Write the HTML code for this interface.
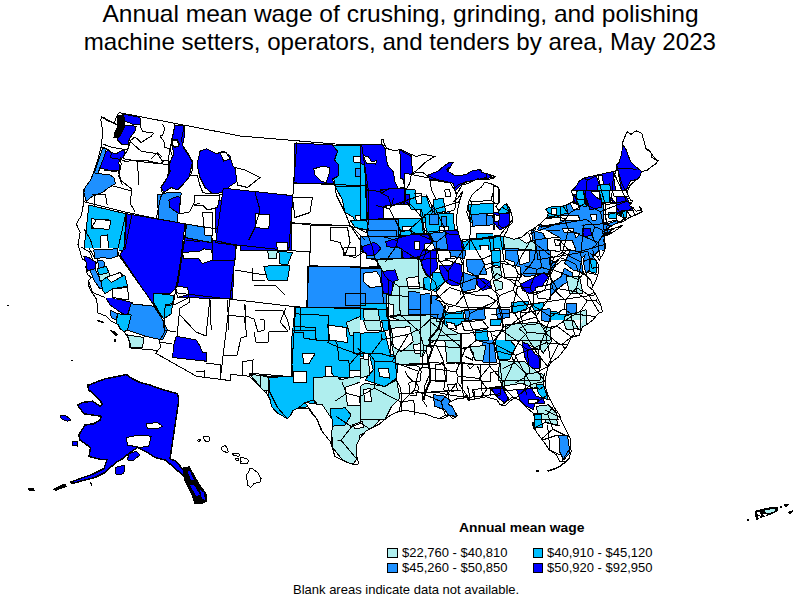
<!DOCTYPE html>
<html><head><meta charset="utf-8">
<style>
html,body{margin:0;padding:0;background:#fff;width:800px;height:600px;overflow:hidden}
body{position:relative;font-family:"Liberation Sans",sans-serif}
.t{position:absolute;left:0;width:800px;text-align:center;font-size:24px;color:#000;white-space:nowrap;line-height:28px}
#t1 span,#t2 span{display:inline-block}
#t1 span{transform:scaleX(1.0224)}
#t2 span{transform:scaleX(1.004)}
#t1{top:0px;left:1px}
#t2{top:28px}
.lg{position:absolute;font-size:13px;white-space:nowrap;color:#000}
.sw{position:absolute;width:8px;height:8px;border:1px solid #000}
svg{position:absolute;left:0;top:0}
</style></head><body>
<svg width="800" height="600" viewBox="0 0 800 600" shape-rendering="crispEdges">
<defs><clipPath id="us"><polygon points="101.5,116.5 107.6,121.0 114.6,122.5 116.8,116.1 119.2,112.6 240.8,136.1 335.3,144.0 361.6,144.7 381.4,144.7 381.4,139.6 383.2,139.8 384.5,144.7 386.7,148.4 394.3,150.9 401.0,149.4 408.8,153.5 416.6,156.5 423.2,154.2 431.0,155.8 434.9,156.4 426.4,161.4 418.1,169.2 411.4,174.2 416.3,172.7 422.1,172.0 427.2,175.6 432.9,173.2 438.7,170.9 442.3,167.3 448.8,162.7 453.2,162.4 449.3,168.8 447.5,171.0 454.6,175.2 461.5,175.3 466.4,174.2 472.0,171.0 480.7,169.4 482.0,172.7 485.0,173.1 490.1,174.6 495.3,176.7 492.5,178.6 484.7,179.9 477.7,178.9 472.9,181.1 468.2,183.6 462.3,184.8 459.7,189.1 457.1,194.1 455.0,199.7 453.7,201.8 458.4,197.4 462.9,190.9 459.6,200.7 458.6,206.3 457.4,210.5 456.2,221.6 457.9,231.1 460.8,240.6 465.0,241.4 469.0,239.2 470.5,232.9 470.1,221.8 466.7,212.5 468.8,201.3 472.2,194.8 475.9,191.1 481.5,187.1 484.5,182.3 490.1,183.4 497.5,186.7 500.0,191.2 499.8,198.1 499.3,202.3 495.7,206.8 499.2,210.6 502.8,206.0 506.5,203.5 510.3,209.2 512.4,217.3 512.1,222.9 508.4,226.8 506.8,231.2 503.8,236.4 509.7,237.8 514.1,239.3 522.2,236.9 528.8,231.1 533.7,228.7 540.7,223.5 547.5,216.4 548.1,213.5 545.8,209.0 551.2,206.8 560.5,206.6 567.4,204.7 573.9,200.7 572.9,195.3 571.2,191.5 575.5,187.2 579.4,180.8 584.9,177.7 598.2,174.8 616.1,170.8 616.1,164.5 618.7,162.5 620.0,159.4 621.8,154.1 622.2,147.7 622.2,143.5 627.0,131.7 631.0,134.3 636.1,130.8 641.8,133.3 645.9,147.9 650.3,151.6 653.1,156.5 657.9,160.6 655.3,164.4 650.8,167.0 647.4,170.1 641.6,171.6 639.8,177.0 633.8,182.0 630.3,185.0 628.2,189.1 627.2,193.6 630.3,200.0 632.6,200.8 629.6,205.8 633.2,207.8 636.2,211.3 641.3,210.1 639.4,207.0 641.3,208.0 642.2,211.7 637.9,213.8 635.0,215.2 631.1,216.8 628.2,218.2 623.6,221.4 613.5,224.4 606.1,230.2 613.3,228.6 623.3,225.0 617.7,229.1 609.2,234.5 604.1,236.0 604.6,238.3 605.5,248.0 603.4,253.4 599.2,260.2 597.5,256.7 591.5,254.4 597.5,262.4 599.0,267.1 598.0,273.7 595.6,281.2 592.7,286.8 591.0,280.7 586.8,275.8 584.2,267.8 583.7,259.4 585.1,254.9 581.4,258.4 582.6,270.9 587.0,277.2 587.5,285.6 592.8,290.0 596.1,295.4 600.6,304.5 602.6,311.9 598.3,313.4 592.7,320.2 587.6,324.0 582.4,327.0 579.2,335.4 571.4,337.4 566.1,347.5 558.2,357.2 550.8,362.5 547.9,367.2 545.8,377.3 545.2,385.9 546.5,391.4 550.0,399.4 553.4,406.0 559.5,415.0 561.7,421.7 567.0,432.2 570.4,438.7 571.1,451.3 569.0,458.7 566.2,461.2 560.0,462.0 556.4,454.8 549.5,450.1 543.3,441.1 537.4,433.4 534.1,426.8 535.0,419.7 533.0,412.9 526.9,408.0 520.0,400.4 514.9,398.1 511.5,399.9 504.9,405.9 500.0,404.6 497.1,400.0 486.1,396.8 474.4,399.2 468.5,400.3 465.7,395.6 463.6,398.8 456.5,399.0 449.5,402.3 448.4,404.4 452.1,406.3 454.9,411.8 457.6,415.8 452.9,418.9 449.1,414.9 444.4,418.0 438.4,418.3 433.5,417.1 427.4,414.6 423.7,413.4 417.7,412.9 406.8,410.4 399.1,411.3 392.5,414.2 388.9,416.3 384.2,419.9 379.4,424.1 370.9,428.3 366.0,431.1 359.9,438.0 356.7,445.0 356.0,451.9 358.4,463.1 359.0,463.8 354.6,464.7 344.7,461.5 334.9,456.4 330.4,441.6 324.5,434.4 321.1,430.1 316.7,418.7 313.2,415.0 308.7,408.8 300.4,408.1 296.8,408.6 293.0,410.4 290.3,415.9 287.1,418.9 283.0,416.1 277.2,412.9 271.7,406.8 269.9,399.0 266.8,393.8 260.2,386.9 255.9,382.3 249.4,376.3 230.8,374.3 230.1,380.6 196.6,376.3 156.0,353.4 157.6,350.4 129.7,347.9 129.3,342.6 128.4,338.1 123.9,331.5 119.8,328.5 118.3,324.6 110.9,320.8 106.1,316.2 97.6,312.8 97.5,305.6 96.2,298.8 91.2,291.1 88.1,284.6 88.6,280.4 91.1,277.4 87.3,274.4 85.8,266.8 86.8,262.7 82.2,258.7 80.4,252.5 78.0,244.6 80.2,232.3 76.3,224.0 81.4,215.3 83.9,201.7 83.3,190.1 91.0,179.4 97.0,162.6 101.2,146.8 102.2,137.3 102.4,129.0 100.8,120.2"/></clipPath></defs>
<polygon points="101.5,116.5 107.6,121.0 114.6,122.5 116.8,116.1 119.2,112.6 240.8,136.1 335.3,144.0 361.6,144.7 381.4,144.7 381.4,139.6 383.2,139.8 384.5,144.7 386.7,148.4 394.3,150.9 401.0,149.4 408.8,153.5 416.6,156.5 423.2,154.2 431.0,155.8 434.9,156.4 426.4,161.4 418.1,169.2 411.4,174.2 416.3,172.7 422.1,172.0 427.2,175.6 432.9,173.2 438.7,170.9 442.3,167.3 448.8,162.7 453.2,162.4 449.3,168.8 447.5,171.0 454.6,175.2 461.5,175.3 466.4,174.2 472.0,171.0 480.7,169.4 482.0,172.7 485.0,173.1 490.1,174.6 495.3,176.7 492.5,178.6 484.7,179.9 477.7,178.9 472.9,181.1 468.2,183.6 462.3,184.8 459.7,189.1 457.1,194.1 455.0,199.7 453.7,201.8 458.4,197.4 462.9,190.9 459.6,200.7 458.6,206.3 457.4,210.5 456.2,221.6 457.9,231.1 460.8,240.6 465.0,241.4 469.0,239.2 470.5,232.9 470.1,221.8 466.7,212.5 468.8,201.3 472.2,194.8 475.9,191.1 481.5,187.1 484.5,182.3 490.1,183.4 497.5,186.7 500.0,191.2 499.8,198.1 499.3,202.3 495.7,206.8 499.2,210.6 502.8,206.0 506.5,203.5 510.3,209.2 512.4,217.3 512.1,222.9 508.4,226.8 506.8,231.2 503.8,236.4 509.7,237.8 514.1,239.3 522.2,236.9 528.8,231.1 533.7,228.7 540.7,223.5 547.5,216.4 548.1,213.5 545.8,209.0 551.2,206.8 560.5,206.6 567.4,204.7 573.9,200.7 572.9,195.3 571.2,191.5 575.5,187.2 579.4,180.8 584.9,177.7 598.2,174.8 616.1,170.8 616.1,164.5 618.7,162.5 620.0,159.4 621.8,154.1 622.2,147.7 622.2,143.5 627.0,131.7 631.0,134.3 636.1,130.8 641.8,133.3 645.9,147.9 650.3,151.6 653.1,156.5 657.9,160.6 655.3,164.4 650.8,167.0 647.4,170.1 641.6,171.6 639.8,177.0 633.8,182.0 630.3,185.0 628.2,189.1 627.2,193.6 630.3,200.0 632.6,200.8 629.6,205.8 633.2,207.8 636.2,211.3 641.3,210.1 639.4,207.0 641.3,208.0 642.2,211.7 637.9,213.8 635.0,215.2 631.1,216.8 628.2,218.2 623.6,221.4 613.5,224.4 606.1,230.2 613.3,228.6 623.3,225.0 617.7,229.1 609.2,234.5 604.1,236.0 604.6,238.3 605.5,248.0 603.4,253.4 599.2,260.2 597.5,256.7 591.5,254.4 597.5,262.4 599.0,267.1 598.0,273.7 595.6,281.2 592.7,286.8 591.0,280.7 586.8,275.8 584.2,267.8 583.7,259.4 585.1,254.9 581.4,258.4 582.6,270.9 587.0,277.2 587.5,285.6 592.8,290.0 596.1,295.4 600.6,304.5 602.6,311.9 598.3,313.4 592.7,320.2 587.6,324.0 582.4,327.0 579.2,335.4 571.4,337.4 566.1,347.5 558.2,357.2 550.8,362.5 547.9,367.2 545.8,377.3 545.2,385.9 546.5,391.4 550.0,399.4 553.4,406.0 559.5,415.0 561.7,421.7 567.0,432.2 570.4,438.7 571.1,451.3 569.0,458.7 566.2,461.2 560.0,462.0 556.4,454.8 549.5,450.1 543.3,441.1 537.4,433.4 534.1,426.8 535.0,419.7 533.0,412.9 526.9,408.0 520.0,400.4 514.9,398.1 511.5,399.9 504.9,405.9 500.0,404.6 497.1,400.0 486.1,396.8 474.4,399.2 468.5,400.3 465.7,395.6 463.6,398.8 456.5,399.0 449.5,402.3 448.4,404.4 452.1,406.3 454.9,411.8 457.6,415.8 452.9,418.9 449.1,414.9 444.4,418.0 438.4,418.3 433.5,417.1 427.4,414.6 423.7,413.4 417.7,412.9 406.8,410.4 399.1,411.3 392.5,414.2 388.9,416.3 384.2,419.9 379.4,424.1 370.9,428.3 366.0,431.1 359.9,438.0 356.7,445.0 356.0,451.9 358.4,463.1 359.0,463.8 354.6,464.7 344.7,461.5 334.9,456.4 330.4,441.6 324.5,434.4 321.1,430.1 316.7,418.7 313.2,415.0 308.7,408.8 300.4,408.1 296.8,408.6 293.0,410.4 290.3,415.9 287.1,418.9 283.0,416.1 277.2,412.9 271.7,406.8 269.9,399.0 266.8,393.8 260.2,386.9 255.9,382.3 249.4,376.3 230.8,374.3 230.1,380.6 196.6,376.3 156.0,353.4 157.6,350.4 129.7,347.9 129.3,342.6 128.4,338.1 123.9,331.5 119.8,328.5 118.3,324.6 110.9,320.8 106.1,316.2 97.6,312.8 97.5,305.6 96.2,298.8 91.2,291.1 88.1,284.6 88.6,280.4 91.1,277.4 87.3,274.4 85.8,266.8 86.8,262.7 82.2,258.7 80.4,252.5 78.0,244.6 80.2,232.3 76.3,224.0 81.4,215.3 83.9,201.7 83.3,190.1 91.0,179.4 97.0,162.6 101.2,146.8 102.2,137.3 102.4,129.0 100.8,120.2" fill="#fff"/>
<g clip-path="url(#us)" stroke="#000" stroke-width="1" stroke-linejoin="round">
<polygon points="122.5,113.8 140.0,117.5 140.0,124.4 135.0,125.0 125.0,121.2 122.5,120.0" fill="#0000ff"/>
<polygon points="123.8,125.0 136.2,126.2 135.0,131.2 131.2,136.2 129.4,138.8 128.1,144.4 122.5,145.0 117.5,140.0 118.8,135.0 121.2,131.2 122.5,127.5" fill="#0000ff"/>
<polygon points="107.5,150.0 111.2,152.5 116.2,153.8 122.5,150.0 125.0,151.2 123.8,156.2 120.0,160.0 118.8,162.5 120.0,170.0 115.0,171.9 100.0,168.1 101.2,160.0 105.0,153.8" fill="#0000ff"/>
<polygon points="102.5,148.1 106.2,148.8 104.4,156.2 100.0,167.5 97.5,175.0 93.8,175.0 98.8,160.0" fill="#1e90ff"/>
<polygon points="91.2,172.5 100.0,173.8 110.0,175.0 113.8,177.5 115.5,183.8 108.8,187.5 102.5,192.5 92.5,196.2 86.2,201.2 83.8,192.5 86.2,182.5" fill="#1e90ff"/>
<polygon points="174.5,125.0 184.2,126.2 185.0,133.8 182.5,145.0 187.5,152.5 192.5,162.5 188.8,177.5 182.5,185.0 177.5,190.0 171.2,187.5 163.8,192.5 161.2,187.5 167.5,177.5 170.0,162.5 173.8,153.8 171.2,141.2 173.8,132.5" fill="#0000ff"/>
<polygon points="171.2,140.0 177.5,139.5 179.5,144.5 175.0,147.5 171.2,145.0" fill="#ffffff"/>
<polygon points="200.0,151.2 206.2,148.8 216.2,153.8 223.8,151.2 230.0,156.2 232.5,165.0 238.8,173.8 237.5,181.2 230.0,186.2 222.5,192.5 212.5,193.8 205.0,187.5 200.0,177.5 197.0,165.0" fill="#0000ff"/>
<polygon points="220.0,152.5 226.2,152.5 230.0,158.8 223.8,161.2" fill="#ffffff"/>
<polygon points="157.5,195.0 170.0,192.0 181.2,193.0 180.0,205.0 178.0,213.8 177.5,222.5 158.8,219.5 158.0,207.5" fill="#1e90ff"/>
<polygon points="168.8,200.0 177.5,196.2 180.5,197.5 179.0,213.8 170.0,207.5" fill="#0000ff"/>
<polygon points="186.2,225.0 210.0,230.0 213.0,241.2 207.5,247.5 196.2,247.0 186.2,241.2" fill="#1e90ff"/>
<polygon points="88.8,205.0 126.2,213.8 123.8,250.0 83.8,250.0 86.2,230.0" fill="#00bfff"/>
<polygon points="91.2,218.8 108.8,220.0 107.5,227.5 91.2,228.8" fill="#ffffff"/>
<polygon points="100.0,236.2 107.5,235.0 108.8,250.0 100.0,250.0" fill="#ffffff"/>
<polygon points="295.0,143.0 333.0,145.0 337.5,151.2 334.5,160.0 338.8,165.0 338.0,176.2 332.5,178.8 333.8,183.8 293.8,183.8" fill="#0000ff"/>
<polygon points="313.8,168.8 322.5,166.2 330.0,167.5 328.8,175.0 326.2,182.5 321.2,181.2 315.0,175.0" fill="#ffffff"/>
<polygon points="332.5,145.0 360.0,145.0 362.5,162.5 365.0,186.2 335.0,186.2 333.8,178.8 338.0,176.2 338.8,165.0 334.5,160.0 337.5,151.2" fill="#00bfff"/>
<polygon points="355.0,168.8 363.8,168.8 363.8,176.2 355.0,176.2" fill="#1e90ff"/>
<polygon points="365.0,169.5 370.0,169.5 370.0,176.2 365.0,176.2" fill="#1e90ff"/>
<polygon points="353.8,156.2 362.5,157.0 362.5,162.0 353.8,162.0" fill="#ffffff"/>
<polygon points="360.0,144.5 380.0,144.5 383.8,146.2 385.0,160.0 392.5,170.0 395.0,182.5 390.0,188.8 367.5,192.5 365.0,185.0 362.5,162.5" fill="#0000ff"/>
<polygon points="362.5,157.0 375.0,158.8 375.0,165.0 365.0,163.8" fill="#ffffff"/>
<polygon points="400.0,150.0 411.2,153.8 412.5,175.0 407.5,182.5 401.2,180.0" fill="#0000ff"/>
<polygon points="367.5,192.5 390.0,188.8 396.2,186.2 402.5,190.0 405.0,202.5 400.0,207.5 390.0,210.0 383.8,207.5 380.0,217.5 370.0,220.0 367.5,207.5" fill="#0000ff"/>
<polygon points="335.0,186.2 365.0,186.2 367.5,220.0 366.2,225.0 362.5,230.0 355.0,225.0 353.8,217.5 345.0,212.5 342.5,200.0" fill="#00bfff"/>
<polygon points="355.0,215.0 365.0,215.0 366.2,225.0 357.5,225.0" fill="#ffffff"/>
<polygon points="367.5,220.0 397.5,220.0 398.8,235.0 378.8,236.2 370.0,230.0" fill="#1e90ff"/>
<polygon points="397.5,217.5 421.2,217.5 422.5,233.8 400.0,235.0" fill="#00bfff"/>
<polygon points="240.0,191.2 255.0,193.0 291.2,196.2 291.2,250.0 240.0,250.0" fill="#0000ff"/>
<polygon points="255.0,213.8 270.0,215.0 268.8,228.8 255.0,227.5" fill="#ffffff"/>
<polygon points="276.2,242.5 288.8,242.5 288.8,250.0 276.2,250.0" fill="#ffffff"/>
<polygon points="97.5,251.2 116.2,248.8 118.8,253.8 113.8,258.8 106.2,260.0 100.0,258.8" fill="#1e90ff"/>
<polygon points="97.5,267.5 110.0,263.8 120.0,272.5 127.5,282.5 126.2,287.5 115.0,287.5 105.0,292.5 100.0,285.0 95.0,275.0" fill="#00bfff"/>
<polygon points="85.0,257.5 95.0,258.8 97.5,265.0 95.0,271.2 88.8,270.0 85.0,263.8" fill="#0000ff"/>
<polygon points="96.2,260.0 106.2,261.2 105.0,267.5 97.5,268.8" fill="#1e90ff"/>
<polygon points="98.8,272.5 108.8,272.0 108.0,280.0 100.0,279.5" fill="#afeeee"/>
<polygon points="107.5,277.5 122.5,272.5 121.2,281.2 108.8,283.8" fill="#ffffff"/>
<polygon points="127.0,213.8 185.0,223.8 177.5,286.2 170.0,293.8 153.8,293.0 153.8,302.5 161.2,316.2 120.0,255.0 124.5,247.5" fill="#0000ff"/>
<polygon points="153.8,293.0 173.8,295.5 171.2,313.8 163.8,318.8 161.2,316.2 153.8,302.5" fill="#00bfff"/>
<polygon points="185.0,237.5 210.0,242.5 235.0,243.8 232.5,298.8 177.5,297.5 177.5,286.2" fill="#0000ff"/>
<polygon points="185.0,223.8 212.5,228.8 211.2,242.5 185.0,237.5" fill="#1e90ff"/>
<polygon points="182.5,252.5 200.0,251.2 203.8,248.8 211.2,250.0 213.8,260.0 205.0,262.5 202.5,263.8 198.8,258.8 183.8,258.8" fill="#ffffff"/>
<polygon points="175.5,286.2 187.5,287.5 188.8,294.5 177.5,297.5" fill="#ffffff"/>
<polygon points="215.0,200.0 260.0,200.0 260.0,246.2 235.0,245.0 215.0,232.5" fill="#0000ff"/>
<polygon points="105.0,296.2 132.5,302.5 131.2,315.0 122.5,313.8 110.0,305.0" fill="#0000ff"/>
<polygon points="131.2,303.8 153.8,306.2 161.2,317.5 167.5,330.0 162.5,340.0 145.0,336.2 127.5,330.0 127.5,315.0" fill="#1e90ff"/>
<polygon points="117.5,313.8 131.2,315.0 127.5,330.0 122.5,332.5 116.2,325.0" fill="#00bfff"/>
<polygon points="110.0,310.0 117.5,313.8 116.2,320.0 111.2,317.5" fill="#1e90ff"/>
<polygon points="127.5,335.0 143.8,337.5 142.5,347.5 131.2,347.5" fill="#afeeee"/>
<polygon points="176.2,336.2 196.2,340.0 200.0,346.2 202.5,352.5 207.0,353.0 206.2,361.2 172.5,357.5 173.8,345.0" fill="#0000ff"/>
<polygon points="250.0,374.5 268.8,376.2 267.5,386.2 266.2,396.2 261.2,390.0 255.0,380.0" fill="#afeeee"/>
<polygon points="295.0,307.5 340.0,311.2 340.0,410.0 330.0,410.0 326.2,402.5 315.0,402.5 305.0,407.5 296.2,407.5 287.5,418.8 278.8,413.8 270.0,405.0 267.5,386.2 268.8,376.2 291.2,376.2 292.5,332.5 293.8,320.0" fill="#00bfff"/>
<polygon points="312.5,377.5 340.0,375.0 340.0,410.0 330.0,410.0 326.2,402.5 315.0,402.5" fill="#afeeee"/>
<polygon points="302.5,352.5 315.0,352.5 312.5,358.8 307.5,358.8 306.2,363.8 302.5,363.8" fill="#ffffff"/>
<polygon points="293.8,371.2 306.2,371.2 305.0,382.5 293.8,381.2" fill="#ffffff"/>
<polygon points="325.0,366.2 330.0,366.2 331.2,372.5 336.2,373.8 335.0,377.5 326.2,377.5" fill="#ffffff"/>
<polygon points="311.2,383.8 325.0,383.8 323.8,391.2 312.5,391.2" fill="#ffffff"/>
<polygon points="263.8,266.2 290.0,265.0 287.5,280.0 267.5,280.0" fill="#00bfff"/>
<polygon points="267.5,250.0 277.5,250.0 276.2,258.8 268.8,258.8" fill="#afeeee"/>
<polygon points="278.8,251.2 292.5,252.5 287.5,265.0 280.0,263.8" fill="#00bfff"/>
<polygon points="307.5,266.2 375.0,267.5 381.2,270.0 386.2,282.5 386.2,307.5 307.5,307.5" fill="#1e90ff"/>
<polygon points="350.0,220.0 367.5,220.0 368.8,230.0 355.0,227.5" fill="#00bfff"/>
<polygon points="367.5,220.0 397.5,220.0 397.5,235.0 370.0,235.0" fill="#1e90ff"/>
<polygon points="370.0,235.0 397.5,235.0 400.0,242.5 387.5,242.5 386.2,247.5 395.0,251.2 400.0,257.5 382.5,257.5 377.5,252.5 375.0,245.0" fill="#1e90ff"/>
<polygon points="363.8,246.2 371.2,242.5 375.0,245.0 381.2,248.8 377.5,257.5 373.8,260.0 366.2,255.0" fill="#0000ff"/>
<polygon points="397.5,220.0 422.5,220.0 425.0,233.8 397.5,235.0" fill="#00bfff"/>
<polygon points="386.2,242.5 400.0,236.2 425.0,233.8 430.0,242.5 420.0,247.5 420.0,257.5 400.0,257.5 395.0,250.0 386.2,247.5" fill="#0000ff"/>
<polygon points="413.8,241.2 420.0,241.2 420.0,248.8 415.0,248.8" fill="#ffffff"/>
<polygon points="425.0,243.8 435.0,242.5 436.2,247.5 425.0,250.0" fill="#ffffff"/>
<polygon points="421.2,247.5 436.2,246.2 440.0,260.0 436.2,270.0 422.5,268.8 420.0,257.5" fill="#0000ff"/>
<polygon points="435.0,230.0 450.0,230.0 450.0,247.5 436.2,247.5" fill="#1e90ff"/>
<polygon points="445.0,230.0 465.0,240.0 466.2,255.0 450.0,257.5 447.5,247.5" fill="#0000ff"/>
<polygon points="440.0,265.0 460.0,265.0 462.5,282.5 445.0,285.0 438.8,278.8" fill="#0000ff"/>
<polygon points="476.2,278.8 491.2,278.8 490.0,290.0 476.2,290.0" fill="#0000ff"/>
<polygon points="377.5,258.8 420.0,257.5 423.8,270.0 438.8,280.0 426.2,286.2 420.0,285.0 417.5,295.0 407.5,295.0 405.0,302.5 395.0,307.5 387.5,307.5 386.2,282.5 381.2,270.0" fill="#afeeee"/>
<polygon points="382.5,270.0 396.2,270.0 395.0,285.0 393.8,295.0 387.5,295.0 386.2,282.5" fill="#0000ff"/>
<polygon points="362.5,273.8 377.5,273.8 380.0,285.0 370.0,287.5 362.5,280.0" fill="#ffffff"/>
<polygon points="407.5,278.8 417.5,280.0 417.5,287.5 410.0,287.5" fill="#ffffff"/>
<polygon points="398.8,297.5 405.0,297.5 406.2,308.8 400.0,308.8" fill="#ffffff"/>
<polygon points="422.5,278.8 435.0,278.8 435.0,290.0 425.0,290.0" fill="#00bfff"/>
<polygon points="438.8,287.5 455.0,285.0 450.0,305.0 436.2,305.0" fill="#ffffff"/>
<polygon points="407.5,302.5 438.8,302.5 438.8,318.8 407.5,318.8" fill="#1e90ff"/>
<polygon points="300.0,307.5 387.5,308.8 388.8,370.0 300.0,370.0" fill="#00bfff"/>
<polygon points="346.2,322.5 375.0,310.0 382.5,325.0 387.5,337.5 362.5,337.5 350.0,335.0" fill="#afeeee"/>
<polygon points="327.5,325.0 346.2,327.5 347.5,342.5 330.0,340.0" fill="#ffffff"/>
<polygon points="305.0,352.5 315.0,352.5 315.0,365.0 305.0,365.0" fill="#ffffff"/>
<polygon points="387.5,315.0 435.0,315.0 432.5,370.0 392.5,370.0" fill="#afeeee"/>
<polygon points="392.5,330.0 405.0,327.5 405.0,345.0 395.0,347.5" fill="#ffffff"/>
<polygon points="410.0,340.0 422.5,337.5 423.8,352.5 412.5,352.5" fill="#ffffff"/>
<polygon points="292.5,330.0 315.0,330.0 316.2,340.0 335.0,340.0 337.5,345.0 338.8,360.0 348.8,360.0 350.0,377.5 337.5,377.5 313.8,377.5 313.8,400.0 305.0,402.5 297.5,408.8 287.5,418.8 277.5,407.5 268.8,390.0 268.8,377.5 292.5,376.2 291.2,345.0" fill="#00bfff"/>
<polygon points="302.5,353.8 315.0,353.8 308.8,363.8 303.8,363.8" fill="#ffffff"/>
<polygon points="293.8,371.2 306.2,371.2 306.2,382.5 293.8,382.5" fill="#ffffff"/>
<polygon points="325.0,366.2 331.2,366.2 331.2,372.5 335.0,377.5 326.2,377.5" fill="#ffffff"/>
<polygon points="260.0,375.0 268.8,377.5 270.0,390.0 260.0,390.0" fill="#afeeee"/>
<polygon points="313.8,377.5 337.5,376.2 340.0,380.0 350.0,377.5 371.2,375.0 375.0,382.5 385.0,387.5 396.2,380.0 400.0,367.5 400.0,405.0 390.0,401.2 385.0,412.5 377.5,422.5 370.0,430.0 360.0,435.0 356.2,460.0 352.5,465.0 342.5,460.0 332.5,447.5 331.2,420.0 313.8,400.0" fill="#afeeee"/>
<polygon points="353.8,332.5 385.0,330.0 390.0,352.5 396.2,357.5 396.2,363.8 391.2,380.0 385.0,387.5 375.0,380.0 370.0,373.8 373.8,357.5 363.8,355.0 353.8,353.8" fill="#00bfff"/>
<polygon points="377.5,368.8 387.5,367.5 388.8,380.0 380.0,378.8" fill="#ffffff"/>
<polygon points="345.0,387.5 362.5,381.2 370.0,395.0 365.0,405.0 347.5,405.0" fill="#ffffff"/>
<polygon points="352.5,425.0 362.5,421.2 363.8,427.5 355.0,428.8" fill="#ffffff"/>
<polygon points="330.0,408.8 340.0,408.8 345.0,407.5 351.2,415.0 345.0,425.0 332.5,426.2" fill="#00bfff"/>
<polygon points="305.0,402.5 322.5,405.0 332.5,420.0 331.2,447.5 323.8,435.0 317.5,420.0" fill="#ffffff"/>
<polygon points="390.0,335.0 427.5,340.0 430.0,362.5 396.2,365.0 390.0,352.5" fill="#afeeee"/>
<polygon points="396.2,365.0 430.0,362.5 435.0,355.0 460.0,357.5 460.0,395.0 440.0,397.5 432.5,412.5 420.0,410.0 410.0,407.5 397.5,405.0 400.0,380.0" fill="#ffffff"/>
<polygon points="435.0,397.5 450.0,396.2 455.0,407.5 450.0,415.0 440.0,410.0" fill="#1e90ff"/>
<polygon points="445.0,337.5 460.0,335.0 460.0,362.5 445.0,362.5" fill="#afeeee"/>
<polygon points="470.0,350.0 485.0,350.0 482.5,362.5 472.5,361.2" fill="#afeeee"/>
<polygon points="482.5,350.0 497.5,350.0 495.0,363.8 483.8,362.5" fill="#1e90ff"/>
<polygon points="497.5,350.0 520.0,350.0 517.5,357.5 500.0,360.0" fill="#00bfff"/>
<polygon points="520.0,350.0 540.0,350.0 542.5,365.0 535.0,370.0 525.0,367.5 520.0,357.5" fill="#0000ff"/>
<polygon points="500.0,365.0 542.5,365.0 545.0,375.0 540.0,380.0 543.8,390.0 535.0,390.0 520.0,387.5 517.5,380.0 505.0,377.5" fill="#afeeee"/>
<polygon points="510.0,372.5 522.5,372.5 522.5,380.0 511.2,381.2" fill="#ffffff"/>
<polygon points="491.2,387.5 506.2,387.5 510.0,398.8 506.2,403.8 500.0,401.2 496.2,395.0" fill="#0000ff"/>
<polygon points="517.5,390.0 532.5,390.0 542.5,396.2 537.5,405.0 530.0,410.0 520.0,400.0" fill="#0000ff"/>
<polygon points="537.5,385.0 547.5,395.0 546.2,400.0 540.0,397.5" fill="#00bfff"/>
<polygon points="540.0,397.5 546.2,398.8 545.0,403.8 540.0,403.8" fill="#0000ff"/>
<polygon points="542.5,407.5 555.0,406.2 557.5,425.0 546.2,422.5" fill="#afeeee"/>
<polygon points="532.5,415.0 541.2,415.0 542.5,427.5 535.0,427.5" fill="#00bfff"/>
<polygon points="558.8,435.0 567.5,435.0 570.0,452.5 563.8,460.0 560.0,452.5" fill="#1e90ff"/>
<polygon points="440.0,335.0 462.5,335.0 462.5,362.5 445.0,362.5" fill="#afeeee"/>
<polygon points="470.0,345.0 482.5,345.0 485.0,362.5 472.5,360.0" fill="#afeeee"/>
<polygon points="480.0,330.0 492.5,331.2 493.8,357.5 483.8,357.5" fill="#1e90ff"/>
<polygon points="492.5,337.5 507.5,335.0 517.5,347.5 515.0,355.0 500.0,357.5 493.8,350.0" fill="#00bfff"/>
<polygon points="497.5,325.0 522.5,325.0 537.5,330.0 540.0,350.0 527.5,342.5 507.5,335.0" fill="#afeeee"/>
<polygon points="521.2,343.8 528.8,342.5 540.0,355.0 538.8,367.5 527.5,367.5 523.8,357.5" fill="#0000ff"/>
<polygon points="502.5,360.0 522.5,357.5 527.5,370.0 540.0,370.0 542.5,390.0 502.5,390.0" fill="#afeeee"/>
<polygon points="497.5,310.0 512.5,307.5 515.0,320.0 500.0,322.5" fill="#1e90ff"/>
<polygon points="535.0,312.5 550.0,315.0 547.5,330.0 537.5,327.5" fill="#1e90ff"/>
<polygon points="545.0,310.0 560.0,312.5 557.5,325.0 547.5,325.0" fill="#00bfff"/>
<polygon points="515.0,322.5 535.0,320.0 535.0,330.0 517.5,330.0" fill="#afeeee"/>
<polygon points="560.0,315.0 580.0,312.5 580.0,322.5 565.0,327.5" fill="#afeeee"/>
<polygon points="520.0,285.0 537.5,275.0 546.2,277.5 542.5,290.0 530.0,293.8 522.5,290.0" fill="#0000ff"/>
<polygon points="522.5,292.5 545.0,290.0 552.5,295.0 540.0,302.5 520.0,303.8" fill="#1e90ff"/>
<polygon points="570.0,265.0 585.0,275.0 587.5,292.5 575.0,297.5 565.0,290.0" fill="#afeeee"/>
<polygon points="460.0,277.5 476.2,275.0 477.5,290.0 462.5,292.5" fill="#1e90ff"/>
<polygon points="476.2,278.8 490.0,278.8 491.2,290.0 480.0,290.0" fill="#0000ff"/>
<polygon points="440.0,272.5 460.0,277.5 462.5,292.5 450.0,297.5 440.0,290.0" fill="#1e90ff"/>
<polygon points="465.0,310.0 485.0,310.0 485.0,325.0 467.5,325.0" fill="#1e90ff"/>
<polygon points="440.0,315.0 465.0,312.5 465.0,330.0 440.0,332.5" fill="#00bfff"/>
<polygon points="495.0,310.0 515.0,307.5 520.0,315.0 500.0,320.0" fill="#1e90ff"/>
<polygon points="490.0,267.5 505.0,267.5 502.5,280.0 490.0,280.0" fill="#afeeee"/>
<polygon points="440.0,240.0 465.0,240.0 465.0,255.0 455.0,255.0" fill="#0000ff"/>
<polygon points="440.0,265.0 462.5,265.0 462.5,285.0 445.0,285.0" fill="#0000ff"/>
<polygon points="467.5,240.0 490.0,240.0 490.0,255.0 470.0,255.0" fill="#1e90ff"/>
<polygon points="467.5,255.0 490.0,255.0 487.5,267.5 470.0,267.5" fill="#00bfff"/>
<polygon points="490.0,240.0 515.0,240.0 512.5,252.5 492.5,252.5" fill="#00bfff"/>
<polygon points="502.5,252.5 522.5,255.0 522.5,267.5 502.5,270.0" fill="#1e90ff"/>
<polygon points="535.0,260.0 552.5,260.0 555.0,270.0 540.0,275.0" fill="#1e90ff"/>
<polygon points="560.0,250.0 600.0,240.0 600.0,270.0 580.0,267.5 565.0,262.5" fill="#1e90ff"/>
<polygon points="587.5,260.0 596.2,260.0 595.0,272.5 588.8,271.2" fill="#00bfff"/>
<polygon points="400.0,150.0 411.2,151.2 412.5,177.5 407.5,180.0 400.0,177.5" fill="#0000ff"/>
<polygon points="428.8,172.5 443.8,166.2 450.0,162.5 453.8,167.5 467.5,171.2 477.5,170.0 487.5,173.8 492.5,177.5 475.0,180.0 462.5,183.8 456.2,190.0 450.0,190.0 445.0,177.5 430.0,177.5" fill="#0000ff"/>
<polygon points="405.0,188.8 421.2,190.0 427.5,193.8 430.0,215.0 425.0,222.5 415.0,225.0 407.5,222.5 405.0,205.0" fill="#00bfff"/>
<polygon points="415.0,192.5 425.0,192.5 425.0,202.5 415.0,202.5" fill="#ffffff"/>
<polygon points="428.8,207.5 447.5,205.0 452.5,222.5 437.5,225.0 427.5,220.0" fill="#1e90ff"/>
<polygon points="437.5,192.5 447.5,192.5 450.0,206.2 437.5,206.2" fill="#00bfff"/>
<polygon points="400.0,220.0 415.0,220.0 422.5,232.5 400.0,235.0" fill="#00bfff"/>
<polygon points="400.0,235.0 430.0,235.0 432.5,245.0 420.0,250.0 415.0,257.5 400.0,255.0" fill="#0000ff"/>
<polygon points="413.8,240.0 420.0,240.0 418.8,250.0 413.8,250.0" fill="#ffffff"/>
<polygon points="430.0,227.5 450.0,230.0 452.5,245.0 440.0,245.0" fill="#1e90ff"/>
<polygon points="445.0,230.0 457.5,232.5 460.0,252.5 450.0,257.5 445.0,245.0" fill="#0000ff"/>
<polygon points="400.0,260.0 425.0,257.5 437.5,272.5 437.5,290.0 400.0,290.0" fill="#afeeee"/>
<polygon points="420.0,250.0 440.0,252.5 440.0,280.0 427.5,285.0 420.0,270.0" fill="#0000ff"/>
<polygon points="435.0,250.0 450.0,257.5 448.8,265.0 437.5,265.0" fill="#ffffff"/>
<polygon points="440.0,265.0 460.0,270.0 462.5,285.0 445.0,290.0 440.0,280.0" fill="#0000ff"/>
<polygon points="467.5,205.0 487.5,205.0 487.5,220.0 471.2,222.5" fill="#00bfff"/>
<polygon points="475.0,215.0 492.5,215.0 495.0,230.0 475.0,230.0" fill="#1e90ff"/>
<polygon points="493.8,212.5 508.8,212.5 510.0,225.0 500.0,230.0 493.8,222.5" fill="#0000ff"/>
<polygon points="502.5,201.2 507.5,200.0 510.0,212.5 500.0,212.5" fill="#00bfff"/>
<polygon points="470.0,237.5 485.0,237.5 485.0,250.0 472.5,252.5" fill="#00bfff"/>
<polygon points="462.5,240.0 502.5,237.5 502.5,250.0 497.5,265.0 475.0,270.0 465.0,260.0" fill="#00bfff"/>
<polygon points="465.0,255.0 482.5,255.0 482.5,280.0 467.5,280.0" fill="#ffffff"/>
<polygon points="470.0,270.0 482.5,270.0 485.0,290.0 465.0,290.0" fill="#00bfff"/>
<polygon points="502.5,235.0 535.0,227.5 535.0,260.0 520.0,265.0 505.0,260.0" fill="#afeeee"/>
<polygon points="517.5,250.0 527.5,250.0 530.0,265.0 517.5,265.0" fill="#ffffff"/>
<polygon points="500.0,250.0 517.5,250.0 517.5,265.0 500.0,265.0" fill="#1e90ff"/>
<polygon points="512.5,265.0 555.0,260.0 557.5,280.0 515.0,285.0" fill="#1e90ff"/>
<polygon points="532.5,275.0 545.0,272.5 547.5,290.0 530.0,290.0" fill="#0000ff"/>
<polygon points="540.0,220.0 580.0,217.5 590.0,235.0 585.0,270.0 555.0,267.5 540.0,245.0" fill="#1e90ff"/>
<polygon points="543.8,206.2 555.0,203.8 555.0,215.0 545.0,215.0" fill="#00bfff"/>
<polygon points="555.0,235.0 565.0,235.0 562.5,240.0 555.0,240.0" fill="#ffffff"/>
<polygon points="550.0,242.5 560.0,247.5 557.5,252.5 547.5,250.0" fill="#ffffff"/>
<polygon points="570.0,222.5 580.0,222.5 575.0,230.0" fill="#ffffff"/>
<polygon points="585.0,227.5 592.5,227.5 593.8,238.8 585.0,237.5" fill="#0000ff"/>
<polygon points="575.0,175.0 590.0,175.0 597.5,185.0 597.5,205.0 580.0,210.0 572.5,197.5 572.5,185.0" fill="#0000ff"/>
<polygon points="570.0,187.5 577.5,187.5 577.5,195.0 570.0,195.0" fill="#ffffff"/>
<polygon points="580.0,190.0 587.5,190.0 590.0,205.0 580.0,202.5" fill="#00bfff"/>
<polygon points="550.0,205.0 600.0,200.0 600.0,222.5 570.0,222.5" fill="#1e90ff"/>
<polygon points="585.0,210.0 600.0,207.5 600.0,290.0 585.0,290.0" fill="#1e90ff"/>
<polygon points="585.0,245.0 600.0,245.0 600.0,257.5 587.5,257.5" fill="#0000ff"/>
<polygon points="590.0,260.0 597.5,260.0 597.5,272.5 590.0,272.5" fill="#00bfff"/>
<polygon points="620.0,145.0 635.0,160.0 640.0,175.0 630.0,180.0 625.0,195.0 615.0,187.5 615.0,165.0" fill="#0000ff"/>
<polygon points="635.0,150.0 650.0,162.5 642.5,172.5 635.0,165.0" fill="#ffffff"/>
<polygon points="573.8,182.5 612.5,170.0 616.2,182.5 613.8,210.0 592.5,210.0 580.0,207.5 575.0,195.0" fill="#0000ff"/>
<polygon points="600.0,182.5 610.0,182.5 610.0,200.0 600.0,200.0" fill="#00bfff"/>
<polygon points="595.0,175.0 602.5,173.8 603.8,182.5 597.5,183.8" fill="#ffffff"/>
<polygon points="590.0,192.5 600.0,192.5 597.5,202.5 590.0,200.0" fill="#ffffff"/>
<polygon points="575.0,195.0 585.0,197.5 587.5,205.0 577.5,205.0" fill="#00bfff"/>
<polygon points="615.0,195.0 635.0,205.0 632.5,210.0 615.0,210.0" fill="#0000ff"/>
<polygon points="610.0,207.5 622.5,212.5 620.0,220.0 610.0,217.5" fill="#00bfff"/>
<polygon points="602.5,200.0 612.5,200.0 615.0,215.0 602.5,215.0" fill="#ffffff"/>
<polygon points="605.0,217.5 625.0,215.0 620.0,227.5 605.0,225.0" fill="#1e90ff"/>
<polygon points="542.5,207.5 600.0,207.5 605.0,250.0 535.0,250.0 540.0,225.0" fill="#1e90ff"/>
<polygon points="545.0,205.0 567.5,205.0 567.5,217.5 547.5,217.5" fill="#00bfff"/>
<polygon points="560.0,230.0 570.0,227.5 572.5,237.5 562.5,240.0" fill="#ffffff"/>
<polygon points="587.5,210.0 597.5,210.0 595.0,220.0 590.0,220.0" fill="#ffffff"/>
<polygon points="580.0,227.5 592.5,226.2 592.5,237.5 582.5,237.5" fill="#0000ff"/>
<polygon points="223.3,188.2 292.9,195.7 288.8,250.5 215.7,242.7" fill="#0000ff"/>
<polygon points="255.0,213.8 270.0,215.0 268.8,228.8 255.0,227.5" fill="#ffffff"/>
<polygon points="276.2,242.5 287.5,242.5 287.5,250.0 277.5,250.0" fill="#ffffff"/>
<polygon points="292.5,197.5 312.5,197.5 310.0,212.5 295.0,217.5" fill="#ffffff"/>
<polygon points="235.0,167.5 245.0,170.0 260.0,177.5 247.5,187.5 237.5,185.0" fill="#ffffff"/>
<polygon points="195.0,195.0 220.0,195.0 217.5,207.5 207.5,210.0 202.5,205.0 193.8,205.0" fill="#ffffff"/>
<polygon points="202.5,212.5 212.5,212.5 212.5,235.0 205.0,235.0" fill="#ffffff"/>
<polygon points="212.5,240.0 235.0,245.0 235.0,260.0 212.5,260.0" fill="#0000ff"/>
<polygon points="117.5,115.0 123.8,115.0 125.0,126.2 122.5,131.2 118.8,137.5 113.8,137.5 115.0,132.5 117.5,127.5" fill="#000"/>
<polygon points="172.5,140.0 177.5,140.0 178.8,146.2 173.1,146.2" fill="#ffffff"/>
<polygon points="91.5,227.8 96.8,219.0 110.8,220.8 109.0,229.5" fill="#ffffff"/>
<polygon points="82.5,247.5 118.8,247.5 118.1,256.2 152.5,302.5 105.0,297.5 93.8,293.8 82.5,272.5" fill="#ffffff" stroke="none"/>
<polygon points="93.8,250.0 117.5,248.8 117.5,256.2 110.0,258.8 103.8,257.5 95.0,258.8" fill="#1e90ff"/>
<polygon points="83.8,256.2 88.8,257.5 96.2,262.5 95.0,268.8 87.5,271.2 86.2,265.0 85.0,260.0" fill="#0000ff"/>
<polygon points="90.0,270.0 95.0,268.8 101.2,281.2 102.5,288.8 100.0,288.8 93.8,280.0" fill="#1e90ff"/>
<polygon points="97.5,260.0 103.8,261.2 105.0,267.5 98.8,268.8" fill="#1e90ff"/>
<polygon points="97.5,268.8 106.2,266.2 108.8,272.5 98.8,276.2" fill="#00bfff"/>
<polygon points="98.8,275.0 108.8,272.5 110.0,277.5 100.0,281.2" fill="#afeeee"/>
<polygon points="101.2,281.2 106.2,277.5 112.5,277.5 121.2,273.8 125.0,276.2 127.5,286.2 112.5,288.8 105.0,293.8 102.5,290.0" fill="#00bfff"/>
<polygon points="106.2,277.5 120.0,272.5 122.5,276.2 111.2,282.5" fill="#ffffff"/>
<polygon points="112.5,288.8 127.5,287.5 128.8,300.0 112.5,297.5" fill="#ffffff"/>
<polygon points="360.0,163.3 365.0,163.3 365.8,189.9 366.6,219.8 360.0,219.8" fill="#00bfff"/>
<polygon points="365.0,169.1 370.0,169.1 370.0,175.7 365.0,175.7" fill="#1e90ff"/>
<polygon points="361.7,145.0 381.6,143.3 384.9,148.3 387.4,164.9 393.2,171.6 394.9,181.6 398.2,188.2 394.9,189.9 380.8,189.0 379.9,191.5 366.6,189.9 365.0,173.2 364.2,164.9 360.0,163.3 360.0,145.0" fill="#0000ff"/>
<polygon points="363.3,155.8 368.3,156.6 371.6,161.6 376.6,160.8 375.8,164.1 366.6,163.3" fill="#ffffff"/>
<polygon points="384.9,148.3 399.9,150.0 400.7,178.2 403.2,179.9 404.9,187.4 398.2,188.2 394.9,181.6 393.2,171.6 387.4,164.9" fill="#ffffff"/>
<polygon points="399.9,150.0 411.5,156.6 412.4,173.2 414.9,179.9 408.2,181.6 400.7,178.2" fill="#0000ff"/>
<polygon points="389.9,188.2 404.1,188.2 404.9,201.5 395.7,206.5 390.8,204.8 388.3,196.5 381.6,193.2" fill="#0000ff"/>
<polygon points="366.6,189.9 379.9,191.5 381.6,193.2 388.3,196.5 390.8,204.8 383.3,206.5 383.3,219.8 368.3,219.8 366.6,209.8" fill="#0000ff"/>
<polygon points="383.3,206.5 396.6,204.8 408.2,204.0 411.5,209.8 419.9,209.8 421.5,218.1 414.9,219.0 399.9,219.8 383.3,218.1" fill="#ffffff"/>
<polygon points="366.6,219.8 398.2,219.8 398.2,239.8 370.0,239.8" fill="#1e90ff"/>
<polygon points="398.2,218.1 421.5,218.1 423.2,233.1 419.9,239.8 398.2,239.8" fill="#00bfff"/>
<polygon points="402.4,226.4 411.5,226.4 409.9,234.8 403.2,234.8" fill="#ffffff"/>
<polygon points="409.9,233.1 429.8,233.1 431.5,239.8 409.9,239.8" fill="#0000ff"/>
<polygon points="404.9,173.2 429.8,178.2 431.5,189.9 436.5,199.8 429.8,209.8 421.5,209.8 418.2,196.5 408.2,189.9 404.1,188.2" fill="#ffffff"/>
<polygon points="404.9,189.0 414.9,189.9 416.5,196.5 426.5,196.5 429.8,206.5 433.1,211.5 428.2,219.8 423.2,216.5 421.5,209.8 411.5,209.8 408.2,204.0 404.9,201.5" fill="#00bfff"/>
<polygon points="414.9,193.2 421.5,193.2 421.5,203.2 416.5,203.2" fill="#ffffff"/>
<polygon points="404.9,194.9 409.9,194.9 409.9,204.0 404.9,204.0" fill="#0000ff"/>
<polygon points="426.5,175.7 436.5,171.6 444.8,164.9 450.6,161.6 453.1,164.1 446.4,169.9 449.8,169.1 459.8,169.9 476.4,169.1 483.0,171.6 486.4,173.2 486.4,177.4 476.4,179.9 466.4,181.6 458.1,184.9 454.8,188.2 453.1,183.2 446.4,181.6 438.1,179.9 429.8,179.1" fill="#0000ff"/>
<polygon points="429.8,179.9 453.1,183.2 456.4,194.9 454.8,209.8 443.1,213.2 436.5,199.8 431.5,189.9" fill="#ffffff"/>
<polygon points="444.8,189.9 449.8,189.9 450.6,196.5 445.6,196.5" fill="#ffffff"/>
<polygon points="433.1,199.8 443.1,198.2 445.6,211.5 434.8,213.2" fill="#00bfff"/>
<polygon points="424.8,214.8 453.1,213.2 454.8,233.1 426.5,233.1" fill="#00bfff"/>
<polygon points="429.8,214.8 438.1,214.8 438.1,224.8 429.8,224.8" fill="#1e90ff"/>
<polygon points="441.5,216.5 446.4,216.5 446.4,226.4 441.5,226.4" fill="#1e90ff"/>
<polygon points="439.8,226.4 448.1,226.4 448.1,233.1 439.8,233.1" fill="#ffffff"/>
<polygon points="443.1,233.1 454.8,229.8 456.4,239.8 443.1,239.8" fill="#0000ff"/>
<polygon points="466.4,181.6 493.0,181.6 493.0,204.8 468.1,206.5" fill="#ffffff"/>
<polygon points="468.1,204.8 493.0,203.2 493.0,213.2 469.7,214.8" fill="#00bfff"/>
<polygon points="471.4,214.8 486.4,213.2 486.4,226.4 473.1,228.1" fill="#1e90ff"/>
<polygon points="469.7,226.4 493.0,224.8 493.0,239.8 469.7,239.8" fill="#ffffff"/>
<polygon points="476.4,233.1 493.0,233.1 493.0,239.8 476.4,239.8" fill="#00bfff"/>
<polygon points="493.0,186.6 498.0,186.6 498.8,203.2 493.0,203.2" fill="#ffffff"/>
<polygon points="498.0,204.8 506.3,203.2 508.8,211.5 503.0,214.8 498.0,213.2" fill="#00bfff"/>
<polygon points="499.6,213.2 509.6,213.2 509.6,224.8 503.0,228.1 498.0,224.8" fill="#0000ff"/>
<polygon points="494.7,214.8 499.6,215.6 498.8,221.5 494.7,221.5" fill="#ffffff"/>
<polygon points="571.1,181.6 596.1,173.2 612.7,168.3 612.7,183.2 607.7,184.9 607.7,196.5 601.1,203.2 592.8,209.8 589.4,206.5 586.1,196.5 581.1,193.2 576.1,198.2 572.8,193.2" fill="#0000ff"/>
<polygon points="594.4,191.5 599.4,192.4 601.1,198.2 596.1,198.2" fill="#ffffff"/>
<polygon points="596.1,174.9 601.1,174.9 602.7,181.6 597.7,183.2" fill="#ffffff"/>
<polygon points="576.1,191.5 582.8,189.9 586.1,204.8 577.8,203.2" fill="#00bfff"/>
<polygon points="597.7,184.9 609.4,183.2 610.2,201.5 601.1,203.2" fill="#00bfff"/>
<polygon points="609.4,178.2 622.7,178.2 626.0,203.2 616.0,203.2 609.4,196.5" fill="#ffffff"/>
<polygon points="619.4,145.0 626.0,140.0 626.0,194.9 621.0,181.6 617.7,166.6" fill="#0000ff"/>
<polygon points="569.5,188.2 576.1,188.2 576.1,194.9 571.1,194.9" fill="#ffffff"/>
<polygon points="544.5,206.5 566.1,203.2 567.8,214.8 549.5,216.5 546.2,213.2" fill="#00bfff"/>
<polygon points="551.2,208.2 556.2,208.2 556.2,214.8 551.2,214.8" fill="#ffffff"/>
<polygon points="566.1,203.2 586.1,203.2 592.8,209.8 601.1,206.5 602.7,218.1 592.8,223.1 579.5,219.8 567.8,218.1" fill="#1e90ff"/>
<polygon points="569.5,206.5 576.1,206.5 577.8,214.8 569.5,214.8" fill="#ffffff"/>
<polygon points="591.1,214.8 597.7,214.0 596.9,219.8 591.1,219.8" fill="#ffffff"/>
<polygon points="536.2,219.8 566.1,216.5 567.8,221.5 542.9,226.4" fill="#ffffff"/>
<polygon points="539.5,226.4 586.1,219.8 602.7,219.8 607.7,239.8 531.2,239.8" fill="#1e90ff"/>
<polygon points="562.8,228.1 571.1,228.1 571.1,233.1 562.8,233.1" fill="#ffffff"/>
<polygon points="579.5,226.4 584.4,226.4 583.6,233.1" fill="#ffffff"/>
<polygon points="556.2,234.8 562.8,233.1 564.5,239.8 556.2,239.8" fill="#ffffff"/>
<polygon points="581.1,228.1 591.1,228.1 592.8,238.1 582.8,238.1" fill="#0000ff"/>
<polygon points="514.6,236.4 529.6,228.1 534.6,239.8 514.6,239.8" fill="#afeeee"/>
<polygon points="602.7,203.2 619.4,203.2 626.0,214.8 616.0,223.1 602.7,223.1" fill="#ffffff"/>
<polygon points="609.4,211.5 619.4,211.5 619.4,219.8 611.0,219.8" fill="#00bfff"/>
<polygon points="619.4,206.5 626.0,204.8 626.0,218.1 621.0,218.1" fill="#1e90ff"/>
<polygon points="614.4,206.5 619.4,206.5 619.4,213.2 616.0,213.2" fill="#0000ff"/>
<polygon points="599.4,226.4 619.4,219.8 609.4,233.1 602.7,236.4" fill="#1e90ff"/>
<polygon points="624.5,132.2 635.8,130.8 641.8,132.2 646.2,149.5 650.8,151.8 651.5,157.0 657.5,160.8 655.2,166.8 648.5,170.5 644.0,173.5 635.0,166.0 630.5,161.5 626.0,149.5 621.5,143.5" fill="#ffffff"/>
<polygon points="623.0,145.0 626.0,149.5 630.5,161.5 635.0,166.0 644.0,173.5 636.5,179.5 630.5,181.0 626.0,190.0 617.0,190.0 616.2,166.0 619.2,163.0 621.5,149.5" fill="#0000ff"/>
<polygon points="570.5,190.0 579.5,176.5 596.0,172.0 612.5,169.0 614.0,166.0 617.0,190.0" fill="#0000ff"/>
<polygon points="596.0,175.0 602.0,175.0 603.5,184.0 599.0,184.0" fill="#ffffff"/>
<polygon points="597.5,185.5 609.5,184.0 611.0,190.0 597.5,190.0" fill="#00bfff"/>
<polygon points="612.5,167.5 617.0,166.0 621.5,190.0 615.5,190.0" fill="#ffffff"/>
<polygon points="366.6,230.0 396.6,230.0 396.6,236.7 368.3,236.7" fill="#1e90ff"/>
<polygon points="398.2,230.0 411.5,230.0 411.5,235.0 398.2,235.0" fill="#00bfff"/>
<polygon points="360.0,236.7 401.6,236.7 401.6,258.3 376.6,259.1 360.0,257.4" fill="#1e90ff"/>
<polygon points="362.5,246.6 370.0,244.1 372.5,242.5 376.6,243.3 380.8,248.3 378.3,251.6 375.0,254.9 366.6,255.8 363.3,251.6" fill="#0000ff"/>
<polygon points="360.0,251.6 366.6,253.3 366.6,258.3 376.6,259.9 378.3,266.6 360.0,267.4" fill="#ffffff"/>
<polygon points="385.8,241.6 399.9,237.5 409.9,235.0 428.2,234.2 431.5,240.0 429.8,245.8 423.2,249.9 419.9,256.6 408.2,258.3 403.2,258.3 401.6,248.3 386.6,246.6" fill="#0000ff"/>
<polygon points="414.9,241.6 419.9,241.6 419.0,249.9 414.9,249.1" fill="#ffffff"/>
<polygon points="424.0,244.1 433.1,243.3 435.6,248.3 429.8,250.8 424.8,249.1" fill="#ffffff"/>
<polygon points="429.8,233.3 446.4,231.7 449.8,246.6 446.4,249.9 434.8,248.3 431.5,240.0" fill="#1e90ff"/>
<polygon points="444.8,230.0 459.8,230.0 461.4,243.3 463.1,251.6 454.8,254.9 448.1,251.6 446.4,240.0" fill="#0000ff"/>
<polygon points="469.7,240.0 493.0,238.3 493.0,259.9 476.4,259.9 469.7,251.6" fill="#00bfff"/>
<polygon points="479.7,245.0 488.0,245.0 488.0,253.3 481.4,253.3" fill="#ffffff"/>
<polygon points="466.4,254.9 474.7,254.9 474.7,261.6 468.1,261.6" fill="#ffffff"/>
<polygon points="434.8,248.3 451.4,253.3 466.4,256.6 466.4,268.2 453.1,266.6 446.4,264.9 438.1,263.2" fill="#ffffff"/>
<polygon points="419.9,256.6 429.8,251.6 438.1,254.9 439.8,263.2 446.4,266.6 446.4,269.9 436.5,273.2 429.8,276.6 423.2,269.9 419.9,263.2" fill="#0000ff"/>
<polygon points="444.8,268.2 459.8,264.9 463.1,276.6 459.8,283.2 446.4,284.9 441.5,279.9" fill="#0000ff"/>
<polygon points="463.1,256.6 483.0,258.3 484.7,271.6 476.4,273.2 466.4,276.6 463.1,269.9" fill="#1e90ff"/>
<polygon points="483.0,258.3 493.0,258.3 493.0,274.9 484.7,273.2" fill="#ffffff"/>
<polygon points="376.6,259.1 401.6,258.3 419.9,258.3 423.2,269.9 428.2,278.2 423.2,283.2 423.2,299.8 409.9,298.2 408.2,306.5 393.2,304.8 389.9,294.8 394.9,281.5 383.3,279.9 379.9,268.2" fill="#afeeee"/>
<polygon points="360.0,268.2 381.6,268.2 383.3,303.1 360.0,303.1" fill="#1e90ff"/>
<polygon points="381.6,271.6 394.9,269.9 398.2,279.9 393.2,281.5 391.6,294.8 383.3,293.2 381.6,279.9" fill="#0000ff"/>
<polygon points="363.3,273.2 376.6,271.6 379.9,276.6 381.6,286.5 370.0,287.4 363.3,281.5" fill="#ffffff"/>
<polygon points="406.6,278.2 418.2,276.6 419.9,288.2 408.2,288.2" fill="#ffffff"/>
<polygon points="423.2,278.2 433.1,274.9 438.1,276.6 441.5,279.9 439.8,288.2 433.1,293.2 424.8,289.9" fill="#00bfff"/>
<polygon points="433.1,274.9 444.8,269.9 446.4,284.9 438.1,288.2" fill="#00bfff"/>
<polygon points="408.2,291.5 434.8,293.2 446.4,303.1 446.4,316.4 429.8,314.8 423.2,309.8 408.2,309.8" fill="#1e90ff"/>
<polygon points="436.5,284.9 459.8,284.9 463.1,293.2 453.1,309.8 446.4,309.8 436.5,299.8" fill="#ffffff"/>
<polygon points="398.2,296.5 406.6,296.5 408.2,309.8 399.9,309.8" fill="#ffffff"/>
<polygon points="386.6,294.8 408.2,296.5 408.2,314.8 429.8,314.8 434.8,329.8 396.6,329.8 393.2,316.4 386.6,316.4" fill="#afeeee"/>
<polygon points="386.6,303.1 393.2,304.8 393.2,319.8 388.3,319.8" fill="#ffffff"/>
<polygon points="360.0,303.1 386.6,303.1 386.6,316.4 393.2,329.8 360.0,329.8" fill="#00bfff"/>
<polygon points="363.3,309.8 378.3,309.8 379.9,323.1 381.6,329.8 365.0,329.8" fill="#afeeee"/>
<polygon points="388.3,316.4 398.2,319.8 396.6,329.8 388.3,329.8" fill="#ffffff"/>
<polygon points="463.1,276.6 476.4,274.9 479.7,293.2 466.4,293.2" fill="#1e90ff"/>
<polygon points="476.4,279.9 489.7,278.2 491.3,289.9 476.4,289.9" fill="#0000ff"/>
<polygon points="476.4,293.2 493.0,291.5 493.0,309.8 466.4,309.8" fill="#ffffff"/>
<polygon points="468.1,311.5 486.4,309.8 488.0,329.8 466.4,329.8" fill="#1e90ff"/>
<polygon points="446.4,313.1 466.4,311.5 466.4,329.8 446.4,329.8" fill="#00bfff"/>
<polygon points="449.8,319.8 459.8,318.1 458.1,326.4 451.4,326.4" fill="#ffffff"/>
<polygon points="493.0,230.0 602.7,230.0 601.1,299.8 493.0,306.5" fill="#ffffff" stroke="none"/>
<polygon points="493.0,236.7 503.0,236.7 504.6,263.2 493.0,264.9" fill="#00bfff"/>
<polygon points="494.7,248.3 499.6,248.3 499.6,251.6 494.7,251.6" fill="#ffffff"/>
<polygon points="503.0,236.7 516.3,236.7 526.2,243.3 534.6,240.0 536.2,253.3 529.6,256.6 517.9,248.3 504.6,248.3" fill="#afeeee"/>
<polygon points="531.2,230.0 542.9,233.3 546.2,240.0 537.9,243.3 532.9,240.0" fill="#1e90ff"/>
<polygon points="534.6,240.0 547.9,238.3 547.9,254.9 537.9,256.6" fill="#1e90ff"/>
<polygon points="546.2,230.0 572.8,230.0 579.5,236.7 589.4,230.0 602.7,230.0 599.4,249.9 592.8,256.6 579.5,253.3 569.5,243.3" fill="#1e90ff"/>
<polygon points="547.9,238.3 566.1,236.7 569.5,243.3 559.5,251.6 547.9,249.9" fill="#ffffff"/>
<polygon points="554.5,240.0 561.2,239.1 559.5,245.0 555.3,245.0" fill="#ffffff"/>
<polygon points="582.8,230.0 592.8,230.0 591.9,238.3 584.4,238.3" fill="#0000ff"/>
<polygon points="571.1,248.3 592.8,249.9 596.1,263.2 586.1,273.2 572.8,269.9 564.5,263.2" fill="#1e90ff"/>
<polygon points="589.4,259.9 596.1,259.9 596.1,273.2 589.4,271.6" fill="#00bfff"/>
<polygon points="504.6,248.3 517.9,248.3 529.6,256.6 534.6,263.2 547.9,259.9 556.2,261.6 552.9,269.9 539.5,274.9 524.6,273.2 519.6,268.2 504.6,266.6" fill="#1e90ff"/>
<polygon points="517.9,249.9 531.2,249.9 531.2,263.2 519.6,263.2" fill="#ffffff"/>
<polygon points="493.0,268.2 499.6,268.2 501.3,284.9 493.0,286.5" fill="#afeeee"/>
<polygon points="521.3,293.2 532.9,293.2 551.2,283.2 561.2,276.6 564.5,268.2 572.8,273.2 571.1,279.9 562.8,284.9 551.2,294.8 536.2,301.5 521.3,303.1" fill="#1e90ff"/>
<polygon points="519.6,286.5 531.2,279.9 541.2,273.2 546.2,271.6 544.5,279.9 541.2,286.5 532.9,293.2 526.2,291.5" fill="#0000ff"/>
<polygon points="566.1,276.6 579.5,276.6 582.8,293.2 569.5,293.2" fill="#afeeee"/>
<polygon points="514.6,299.8 529.6,299.8 532.9,308.1 517.9,309.8" fill="#afeeee"/>
<polygon points="532.9,303.1 547.9,301.5 547.9,309.8 534.6,311.5" fill="#00bfff"/>
<polygon points="566.1,303.1 576.1,303.1 576.1,313.1 566.1,314.8" fill="#1e90ff"/>
<polygon points="493.0,308.1 514.6,308.1 516.3,319.8 496.3,319.8" fill="#1e90ff"/>
<polygon points="496.3,319.8 506.3,319.8 506.3,329.8 493.0,329.8" fill="#00bfff"/>
<polygon points="534.6,311.5 549.5,313.1 547.9,329.8 536.2,329.8" fill="#1e90ff"/>
<polygon points="549.5,313.1 566.1,314.8 562.8,326.4 551.2,326.4" fill="#00bfff"/>
<polygon points="564.5,316.4 586.1,309.8 586.1,329.8 564.5,329.8" fill="#afeeee"/>
<polygon points="516.3,309.8 534.6,311.5 536.2,323.1 516.3,323.1" fill="#ffffff"/>
<polygon points="508.0,320.6 534.6,323.1 532.9,329.8 508.0,329.8" fill="#ffffff"/>
<polygon points="360.0,320.0 493.0,320.0 493.0,419.8 360.0,419.8" fill="#ffffff" stroke="none"/>
<polygon points="363.3,320.0 379.9,320.0 381.6,330.0 366.6,330.0" fill="#afeeee"/>
<polygon points="381.6,320.0 388.3,320.0 388.3,330.0 383.3,330.0" fill="#00bfff"/>
<polygon points="360.0,333.3 384.9,331.6 389.9,353.2 398.2,358.2 396.6,378.2 384.9,386.5 365.0,379.9 373.3,369.9 370.0,356.6 360.0,356.6" fill="#00bfff"/>
<polygon points="363.3,353.2 368.3,353.2 368.3,359.9 363.3,359.9" fill="#ffffff"/>
<polygon points="378.3,368.2 388.3,368.2 389.9,378.2 379.9,376.5" fill="#ffffff"/>
<polygon points="360.0,358.2 368.3,359.9 370.0,374.9 360.0,378.2" fill="#afeeee"/>
<polygon points="365.0,383.2 384.9,386.5 396.6,379.9 399.9,398.1 391.6,406.4 384.9,419.8 360.0,419.8 360.0,386.5" fill="#afeeee"/>
<polygon points="363.3,389.8 370.0,388.2 371.6,401.5 365.0,401.5" fill="#ffffff"/>
<polygon points="389.9,320.0 426.5,320.0 428.2,331.6 431.5,341.6 426.5,363.2 396.6,364.9 393.2,351.6 389.9,335.0" fill="#afeeee"/>
<polygon points="391.6,328.3 409.9,326.6 413.2,341.6 401.6,351.6 393.2,346.6" fill="#ffffff"/>
<polygon points="413.2,344.9 421.5,343.3 423.2,353.2 414.9,353.2" fill="#ffffff"/>
<polygon points="443.1,333.3 459.8,333.3 459.8,363.2 444.8,361.6" fill="#afeeee"/>
<polygon points="436.5,320.0 463.1,320.0 463.1,333.3 439.8,333.3" fill="#00bfff"/>
<polygon points="466.4,320.0 483.0,320.0 483.0,326.6 469.7,326.6" fill="#1e90ff"/>
<polygon points="468.1,344.9 483.0,344.9 479.7,366.6 468.1,363.2" fill="#afeeee"/>
<polygon points="479.7,333.3 491.3,331.6 493.0,363.2 483.0,361.6" fill="#1e90ff"/>
<polygon points="433.1,394.8 443.1,395.6 449.8,399.8 453.1,406.4 456.4,416.4 448.1,414.8 444.8,409.8 434.8,406.4" fill="#1e90ff"/>
<polygon points="480.0,320.0 583.1,320.0 573.1,336.6 543.2,374.9 546.5,389.8 559.8,419.8 480.0,419.8" fill="#ffffff" stroke="none"/>
<polygon points="480.0,320.0 521.6,320.0 519.9,326.6 490.0,326.6" fill="#00bfff"/>
<polygon points="480.0,333.3 490.0,331.6 496.6,359.9 490.0,364.9 481.7,363.2 485.0,349.9 480.0,346.6" fill="#1e90ff"/>
<polygon points="496.6,336.6 506.6,336.6 513.2,343.3 516.6,351.6 513.2,358.2 501.6,359.9 496.6,349.9" fill="#00bfff"/>
<polygon points="506.6,328.3 523.2,326.6 526.5,336.6 519.9,343.3 513.2,339.9" fill="#afeeee"/>
<polygon points="534.9,330.0 549.8,326.6 551.5,341.6 543.2,353.2 538.2,346.6" fill="#afeeee"/>
<polygon points="534.9,321.7 546.5,321.7 546.5,330.0 536.5,330.0" fill="#1e90ff"/>
<polygon points="563.1,320.0 573.1,320.0 578.1,328.3 566.5,330.0" fill="#afeeee"/>
<polygon points="526.5,344.9 534.9,341.6 539.9,346.6 536.5,353.2 533.2,351.6" fill="#00bfff"/>
<polygon points="521.6,343.3 526.5,344.9 534.9,354.9 539.9,356.6 539.9,363.2 533.2,368.2 526.5,366.6 523.2,358.2 519.9,351.6" fill="#0000ff"/>
<polygon points="498.3,364.9 526.5,366.6 534.9,369.9 543.2,374.9 543.2,386.5 533.2,388.2 521.6,383.2 511.6,384.8 501.6,386.5 499.9,374.9" fill="#afeeee"/>
<polygon points="504.9,373.2 516.6,373.2 514.9,379.9 506.6,379.9" fill="#ffffff"/>
<polygon points="490.0,388.2 501.6,386.5 508.3,398.1 504.9,403.1 498.3,398.1" fill="#0000ff"/>
<polygon points="516.6,389.8 531.5,388.2 536.5,396.5 543.2,398.1 544.8,403.1 534.9,403.1 533.2,409.8 526.5,406.4 519.9,399.8" fill="#0000ff"/>
<polygon points="536.5,384.8 543.2,384.8 548.2,399.8 543.2,398.1 538.2,393.1" fill="#00bfff"/>
<polygon points="528.2,399.8 538.2,399.0 537.4,403.1 528.2,403.1" fill="#ffffff"/>
<polygon points="536.5,406.4 548.2,404.8 556.5,413.1 558.1,419.8 538.2,419.8" fill="#afeeee"/>
<polygon points="534.9,414.8 541.5,414.8 541.5,419.8 534.9,419.8" fill="#00bfff"/>
<polygon points="467.5,347.5 482.5,345.0 487.5,346.2 480.0,362.5 475.0,362.5 470.0,355.0" fill="#afeeee"/>
<polygon points="482.5,350.0 490.0,345.0 495.0,358.8 496.2,363.8 486.2,363.8 482.5,358.8" fill="#1e90ff"/>
<polygon points="491.2,387.5 500.0,386.2 500.0,395.0 495.0,395.0" fill="#0000ff"/>
<polygon points="420.0,290.0 540.0,290.0 540.0,380.0 420.0,380.0" fill="#ffffff" stroke="none"/>
<polygon points="420.0,294.5 435.0,293.0 447.0,306.5 442.5,320.0 420.0,317.0" fill="#1e90ff"/>
<polygon points="444.0,314.0 465.0,312.5 462.0,332.0 447.0,329.0" fill="#00bfff"/>
<polygon points="448.5,323.0 456.0,324.5 457.5,329.0 451.5,329.0" fill="#ffffff"/>
<polygon points="465.0,312.5 484.5,309.5 486.0,321.5 469.5,326.0" fill="#1e90ff"/>
<polygon points="495.0,311.0 507.0,308.0 510.0,315.5 504.0,320.0 496.5,317.0" fill="#1e90ff"/>
<polygon points="487.5,320.0 505.5,320.0 507.0,326.0 490.5,332.0" fill="#00bfff"/>
<polygon points="508.5,305.0 525.0,299.0 531.0,305.0 522.0,317.0 510.0,318.5" fill="#00bfff"/>
<polygon points="517.5,296.0 534.0,293.0 537.0,299.0 525.0,302.0" fill="#1e90ff"/>
<polygon points="420.0,314.0 436.5,315.5 439.5,338.0 429.0,344.0 423.0,356.0 420.0,356.0" fill="#afeeee"/>
<polygon points="444.0,332.0 460.5,335.0 460.5,363.5 447.0,362.0" fill="#afeeee"/>
<polygon points="472.5,333.5 483.0,332.0 483.0,339.5 474.0,339.5" fill="#00bfff"/>
<polygon points="481.5,332.0 492.0,332.0 496.5,362.0 483.0,362.0" fill="#1e90ff"/>
<polygon points="469.5,347.0 486.0,345.5 483.0,360.5 475.5,360.5" fill="#afeeee"/>
<polygon points="495.0,338.0 507.0,336.5 516.0,347.0 510.0,359.0 498.0,359.0" fill="#00bfff"/>
<polygon points="501.0,329.0 525.0,327.5 540.0,335.0 540.0,350.0 523.5,342.5 516.0,335.0" fill="#afeeee"/>
<polygon points="522.0,342.5 528.0,344.0 535.5,354.5 540.0,356.0 540.0,368.0 529.5,368.0 525.0,357.5" fill="#0000ff"/>
<polygon points="499.5,360.5 525.0,362.0 540.0,374.0 540.0,380.0 498.0,380.0" fill="#afeeee"/>
<polygon points="435.0,293.0 457.5,290.0 459.0,299.0 450.0,308.0" fill="#ffffff"/>
<polygon points="462.0,299.0 477.0,296.0 483.0,308.0 465.0,309.5" fill="#ffffff"/>
<polygon points="483.0,296.0 504.0,294.5 507.0,306.5 486.0,308.0" fill="#ffffff"/>
<polygon points="426.0,347.0 436.5,345.5 444.0,362.0 429.0,368.0" fill="#ffffff"/>
<polygon points="429.0,362.0 444.0,363.5 445.5,380.0 429.0,380.0" fill="#ffffff"/>
<polygon points="462.0,363.5 480.0,365.0 480.0,380.0 462.0,380.0" fill="#ffffff"/>
<polygon points="463.5,324.5 487.5,324.5 486.0,332.0 465.0,335.0" fill="#ffffff"/>
<polygon points="560.0,205.0 603.0,205.0 603.0,250.0 560.0,250.0" fill="#1e90ff" stroke="none"/>
<polygon points="575.0,190.0 583.0,190.0 588.0,203.0 590.0,210.0 602.0,207.0 601.0,200.0 595.0,196.0 593.0,190.0" fill="#0000ff"/>
<polygon points="591.0,192.0 599.0,191.0 600.0,200.0 595.0,196.0" fill="#ffffff"/>
<polygon points="576.0,199.0 584.0,200.0 587.0,207.0 579.0,205.0" fill="#00bfff"/>
<polygon points="599.0,190.0 610.0,190.0 609.0,202.0 602.0,202.0" fill="#00bfff"/>
<polygon points="560.0,205.0 566.0,205.0 568.0,213.0 560.0,215.0" fill="#00bfff"/>
<polygon points="569.0,201.0 578.0,205.0 580.0,209.0 573.0,209.0" fill="#ffffff"/>
<polygon points="560.0,215.0 578.0,215.0 580.0,220.0 560.0,221.0" fill="#ffffff"/>
<polygon points="590.0,214.0 597.0,214.0 596.0,220.0 592.0,220.0" fill="#ffffff"/>
<polygon points="603.0,202.0 616.0,202.0 616.0,220.0 604.0,223.0" fill="#ffffff"/>
<polygon points="612.0,190.0 630.0,190.0 630.0,196.0 614.0,196.0" fill="#ffffff"/>
<polygon points="616.0,196.0 626.0,196.0 632.0,208.0 626.0,212.0 620.0,213.0 616.0,206.0" fill="#0000ff"/>
<polygon points="608.0,212.0 616.0,212.0 617.0,219.0 609.0,218.0" fill="#00bfff"/>
<polygon points="621.0,210.0 626.0,211.0 626.0,217.0 622.0,217.0" fill="#00bfff"/>
<polygon points="616.0,214.0 624.0,218.0 620.0,222.0 616.0,220.0" fill="#ffffff"/>
<polygon points="582.0,228.0 590.0,228.0 592.0,235.0 584.0,237.0" fill="#0000ff"/>
<polygon points="562.0,228.0 573.0,228.0 574.0,233.0 564.0,232.0" fill="#ffffff"/>
<polygon points="560.0,240.0 572.0,240.0 576.0,250.0 560.0,250.0" fill="#ffffff"/>
<polygon points="574.0,232.0 580.0,234.0 576.0,238.0" fill="#ffffff"/>
<polygon points="602.0,232.0 616.0,224.0 620.0,225.0 604.0,235.0" fill="#1e90ff"/>
<polygon points="430.0,250.0 550.0,250.0 550.0,340.0 430.0,340.0" fill="#ffffff" stroke="none"/>
<polygon points="430.0,250.0 436.0,250.0 437.5,268.0 430.0,277.0" fill="#0000ff"/>
<polygon points="439.0,265.0 451.0,265.0 454.0,262.0 461.5,265.0 463.0,284.5 452.5,286.0 445.0,281.5 440.5,272.5" fill="#0000ff"/>
<polygon points="449.5,250.0 466.0,250.0 464.5,259.0 451.0,256.0" fill="#1e90ff"/>
<polygon points="437.5,250.0 449.5,250.0 451.0,259.0 439.0,262.0" fill="#ffffff"/>
<polygon points="445.0,259.0 460.0,257.5 463.0,265.0 452.5,262.0" fill="#ffffff"/>
<polygon points="433.0,272.5 440.5,272.5 445.0,281.5 436.0,292.0 430.0,289.0" fill="#00bfff"/>
<polygon points="463.0,272.5 478.0,277.0 475.0,289.0 463.0,292.0 460.0,284.5" fill="#1e90ff"/>
<polygon points="476.5,278.5 484.0,278.5 490.0,281.5 491.5,287.5 482.5,290.5 478.0,286.0" fill="#0000ff"/>
<polygon points="466.0,259.0 482.5,259.0 487.0,274.0 475.0,275.5 467.5,271.0" fill="#1e90ff"/>
<polygon points="482.5,259.0 493.0,254.5 493.0,266.5 485.5,269.5" fill="#ffffff"/>
<polygon points="491.5,266.5 500.5,268.0 502.0,277.0 496.0,280.0 492.2,275.5" fill="#afeeee"/>
<polygon points="491.5,250.0 500.5,250.0 500.5,266.5 491.5,265.0" fill="#00bfff"/>
<polygon points="493.0,280.0 502.0,281.5 502.0,289.0 496.0,290.5" fill="#afeeee"/>
<polygon points="505.0,250.0 550.0,250.0 550.0,274.0 541.0,274.0 526.0,277.0 517.0,271.0 514.0,262.0 505.0,259.0" fill="#1e90ff"/>
<polygon points="517.0,250.0 529.0,250.0 529.0,262.0 520.0,265.0" fill="#ffffff"/>
<polygon points="502.0,263.5 520.0,266.5 520.0,277.0 505.0,277.0" fill="#ffffff"/>
<polygon points="520.0,284.5 532.0,278.5 544.0,272.5 548.5,277.0 541.0,287.5 529.0,293.5 523.0,290.5" fill="#0000ff"/>
<polygon points="535.0,287.5 550.0,284.5 550.0,299.5 538.0,298.0" fill="#ffffff"/>
<polygon points="430.0,295.0 436.0,295.0 443.5,307.0 448.0,316.0 439.0,319.0 430.0,316.0" fill="#1e90ff"/>
<polygon points="464.5,310.0 484.0,308.5 485.5,319.0 466.0,320.5" fill="#1e90ff"/>
<polygon points="443.5,313.0 463.0,311.5 464.5,322.0 452.5,328.0 445.0,325.0" fill="#00bfff"/>
<polygon points="446.5,322.0 454.0,323.5 457.0,329.5 448.0,328.0" fill="#ffffff"/>
<polygon points="461.5,322.0 482.5,320.5 488.5,328.0 464.5,331.0" fill="#ffffff"/>
<polygon points="496.0,308.5 509.5,310.0 509.5,317.5 497.5,319.0" fill="#1e90ff"/>
<polygon points="511.0,302.5 529.0,301.0 526.0,310.0 512.5,313.0" fill="#00bfff"/>
<polygon points="532.0,304.0 544.0,302.5 542.5,310.0 533.5,310.0" fill="#00bfff"/>
<polygon points="541.0,310.0 550.0,308.5 550.0,322.0 541.0,320.5" fill="#1e90ff"/>
<polygon points="490.0,319.0 502.0,319.0 500.5,325.0 490.0,325.0" fill="#00bfff"/>
<polygon points="430.0,316.0 439.0,319.0 448.0,328.0 460.0,334.0 460.0,340.0 430.0,340.0" fill="#afeeee"/>
<polygon points="505.0,325.0 535.0,322.0 550.0,328.0 550.0,340.0 505.0,340.0" fill="#afeeee"/>
<polygon points="475.0,331.0 487.0,329.5 488.5,340.0 475.0,340.0" fill="#00bfff"/>
<polygon points="520.0,313.0 535.0,311.5 538.0,322.0 523.0,323.5" fill="#ffffff"/>
<polygon points="436.0,299.5 448.0,304.0 460.0,307.0 475.0,307.0 490.0,307.0 496.0,301.0 487.0,295.0 475.0,295.0 463.0,292.0 449.5,287.5" fill="#ffffff"/>
<defs><clipPath id="east"><polygon points="375.0,200.0 470.0,190.0 545.0,195.0 575.0,180.0 612.0,165.0 625.0,150.0 640.0,175.0 700.0,300.0 620.0,480.0 340.0,480.0 335.0,400.0 355.0,350.0 388.0,330.0 388.0,280.0 380.0,230.0"/></clipPath></defs>
<g clip-path="url(#east)"><path d="M643.3 152.3L662.1 135.5 M643.3 152.3L615.1 144.5 M640.5 116.5L623.5 122.3 M640.5 116.5L661.3 126.9 M661.3 126.9L662.1 135.5 M615.1 144.5L623.5 122.3 M643.3 90.9L640.5 116.5 M680.4 115.5L680.2 98.7 M680.4 115.5L661.3 126.9 M319.8 493.0L305.6 515.8 M319.8 493.0L340.6 516.3 M342.2 521.3L340.6 516.3 M728.7 301.1L742.7 287.5 M728.7 301.1L713.1 266.6 M713.1 266.6L727.1 266.7 M643.3 152.3L644.7 169.3 M615.1 144.5L612.4 148.1 M644.7 169.3L612.2 168.5 M612.4 148.1L612.2 168.5 M319.8 493.0L317.6 479.9 M304.0 478.0L317.6 479.9 M340.6 516.3L360.3 474.3 M360.3 474.3L322.2 476.1 M317.6 479.9L322.2 476.1 M360.3 474.3L363.6 473.1 M363.6 473.1L364.3 468.0 M322.2 476.1L323.8 441.9 M323.8 441.9L341.1 440.3 M364.3 468.0L341.1 440.3 M403.0 472.8L376.3 484.4 M403.0 472.8L404.7 455.9 M376.3 484.4L363.6 473.1 M364.3 468.0L381.3 439.1 M404.7 455.9L381.3 439.1 M372.0 514.4L379.9 496.0 M372.0 514.4L392.5 556.0 M379.9 496.0L416.5 510.4 M342.2 521.3L372.0 514.4 M376.3 484.4L379.9 496.0 M420.9 508.4L502.1 630.4 M420.9 508.4L416.5 510.4 M728.7 301.1L726.5 311.4 M726.5 311.4L739.6 319.4 M319.3 177.1L326.4 153.1 M319.3 177.1L313.4 179.7 M302.5 133.5L326.4 153.1 M302.5 133.5L280.6 173.1 M313.4 179.7L280.6 173.1 M302.5 133.5L301.4 122.7 M460.6 93.1L459.5 94.1 M459.5 94.1L428.1 83.5 M711.0 95.9L691.5 89.4 M711.0 95.9L713.6 93.1 M713.6 93.1L707.5 30.9 M691.5 89.4L707.5 30.9 M737.5 94.0L713.6 93.1 M680.2 98.7L691.5 89.4 M713.1 266.6L711.9 266.1 M711.9 266.1L723.1 237.9 M734.0 231.6L723.1 237.9 M662.1 135.5L668.5 148.1 M644.7 169.3L659.8 180.0 M659.8 180.0L671.8 164.1 M668.5 148.1L671.8 164.1 M737.5 94.0L739.1 103.4 M739.1 103.4L792.0 133.3 M502.6 143.7L516.0 141.5 M502.6 143.7L485.9 159.7 M516.0 141.5L504.3 172.5 M485.9 159.7L498.6 173.9 M498.6 173.9L504.3 172.5 M532.1 169.3L535.4 149.2 M532.1 169.3L529.1 176.5 M535.4 149.2L517.7 140.7 M517.7 140.7L516.0 141.5 M529.1 176.5L504.3 172.5 M612.4 148.1L585.1 140.4 M612.2 168.5L612.1 168.8 M612.1 168.8L587.1 180.2 M587.1 180.2L572.0 169.5 M572.0 169.5L570.2 163.0 M585.1 140.4L570.2 163.0 M532.1 169.3L564.3 174.9 M535.4 149.2L543.9 145.4 M564.3 174.9L572.0 169.5 M543.9 145.4L570.2 163.0 M643.3 90.9L610.9 75.6 M623.5 122.3L619.4 118.9 M619.4 118.9L609.2 88.5 M489.9 97.5L460.6 93.1 M489.9 97.5L496.5 93.0 M496.5 93.0L513.0 105.2 M513.0 105.2L533.8 98.5 M489.9 97.5L486.1 120.3 M486.1 120.3L514.3 124.3 M513.0 105.2L514.3 124.3 M517.7 140.7L515.4 126.1 M482.2 125.4L486.1 120.3 M482.2 125.4L502.6 143.7 M515.4 126.1L514.3 124.3 M467.9 199.1L462.0 183.3 M467.9 199.1L471.7 202.0 M485.9 159.7L481.6 159.0 M498.6 173.9L490.9 200.3 M471.7 202.0L490.9 200.3 M462.0 183.3L481.6 159.0 M361.0 423.2L351.6 426.7 M361.0 423.2L359.7 396.7 M351.6 426.7L331.3 413.2 M359.7 396.7L346.7 393.4 M346.7 393.4L332.5 402.9 M331.3 413.2L332.5 402.9 M341.1 440.3L351.6 426.7 M381.3 436.8L381.3 439.1 M381.3 436.8L361.0 423.2 M401.7 415.9L381.3 436.8 M401.7 415.9L401.4 402.4 M374.5 388.2L401.4 402.4 M374.5 388.2L359.7 396.7 M294.7 399.6L208.9 399.1 M294.7 399.6L318.8 427.5 M318.8 427.5L318.2 435.8 M315.1 436.4L318.2 435.8 M298.2 360.2L313.7 383.7 M298.2 360.2L208.9 399.1 M309.9 392.5L313.7 383.7 M309.9 392.5L294.7 399.6 M309.9 392.5L332.5 402.9 M331.3 413.2L318.8 427.5 M323.8 441.9L318.2 435.8 M297.7 467.8L315.1 436.4 M297.7 467.8L277.6 441.0 M304.0 478.0L297.7 467.8 M494.2 504.8L497.0 602.3 M494.2 504.8L469.4 493.2 M457.3 516.2L469.4 493.2 M486.5 462.5L506.5 487.7 M486.5 462.5L469.3 493.1 M494.2 504.8L506.5 487.7 M469.4 493.2L469.3 493.1 M486.5 462.5L483.9 455.0 M483.9 455.0L515.8 440.2 M506.5 487.7L507.7 487.5 M515.8 440.2L527.8 450.4 M527.8 450.4L518.2 481.4 M518.2 481.4L507.7 487.5 M301.7 247.2L325.2 235.1 M301.7 247.2L291.5 215.5 M325.2 235.1L308.8 213.1 M291.5 215.5L308.8 213.1 M313.4 179.7L314.2 204.7 M314.2 204.7L308.8 213.1 M313.7 383.7L326.6 371.5 M346.7 393.4L339.3 376.3 M339.3 376.3L326.6 371.5 M470.6 239.9L500.1 235.0 M470.6 239.9L484.7 264.6 M500.1 235.0L504.2 261.1 M484.7 264.6L504.2 261.1 M536.2 316.0L556.9 288.5 M536.2 316.0L513.0 290.1 M556.9 288.5L548.3 273.5 M548.3 273.5L518.3 274.1 M513.0 290.1L518.3 274.1 M692.5 407.4L703.7 401.5 M692.5 407.4L689.6 415.2 M731.7 429.1L701.9 430.5 M731.7 429.1L724.5 403.6 M689.6 415.2L701.9 430.5 M724.5 403.6L703.7 401.5 M731.5 480.0L748.7 467.5 M731.7 429.1L734.6 431.7 M701.5 448.6L701.9 430.5 M701.5 448.6L724.6 446.0 M724.6 446.0L734.6 431.7 M724.5 403.6L742.0 387.2 M741.1 433.0L734.6 431.7 M701.5 448.6L696.7 459.7 M724.6 446.0L725.2 476.8 M696.7 459.7L725.2 476.8 M731.5 480.0L727.3 479.2 M725.2 476.8L727.3 479.2 M711.9 266.1L703.4 267.0 M726.5 311.4L717.1 313.8 M696.1 305.3L717.1 313.8 M696.1 305.3L692.9 289.7 M692.9 289.7L703.4 267.0 M565.6 219.4L568.5 213.8 M565.6 219.4L523.7 203.3 M568.5 213.8L552.2 191.2 M552.2 191.2L531.6 188.0 M531.6 188.0L523.7 203.3 M584.4 203.9L568.5 213.8 M584.4 203.9L587.1 180.2 M564.3 174.9L552.2 191.2 M529.1 176.5L531.6 188.0 M490.9 200.3L512.7 213.7 M512.7 213.7L523.7 203.3 M612.1 168.8L626.7 201.2 M584.4 203.9L600.6 211.6 M600.6 211.6L626.7 201.2 M659.7 185.5L659.8 180.0 M659.7 185.5L630.9 203.1 M630.9 203.1L626.7 201.2 M598.2 242.4L604.6 232.5 M598.2 242.4L599.7 255.7 M599.7 255.7L608.9 263.7 M608.9 263.7L618.3 263.4 M604.6 232.5L623.2 232.6 M618.3 263.4L623.2 232.6 M600.6 211.6L604.6 232.5 M630.9 203.1L638.2 226.4 M638.2 226.4L623.2 232.6 M316.3 113.0L347.8 137.5 M316.3 113.0L322.2 103.2 M322.2 103.2L341.5 97.1 M352.9 119.8L347.8 137.5 M352.9 119.8L342.4 97.1 M342.4 97.1L341.5 97.1 M301.4 122.7L316.3 113.0 M326.4 153.1L349.7 144.5 M349.7 144.5L347.8 137.5 M364.1 84.6L342.4 97.1 M449.8 121.0L459.5 94.1 M449.8 121.0L419.3 114.0 M428.1 83.5L411.8 91.8 M419.3 114.0L411.8 91.8 M364.1 84.6L378.6 92.9 M352.9 119.8L376.7 112.8 M376.7 112.8L378.6 92.9 M378.6 92.9L403.7 86.8 M403.7 86.8L411.8 91.8 M342.0 185.3L319.3 177.1 M342.0 185.3L355.9 165.3 M349.7 144.5L353.6 146.9 M355.9 165.3L353.6 146.9 M659.7 185.5L673.9 201.1 M690.9 165.9L671.8 164.1 M690.9 165.9L687.5 196.8 M687.5 196.8L673.9 201.1 M734.0 231.6L734.4 206.2 M723.1 237.9L699.8 226.7 M699.8 226.7L715.6 199.7 M734.4 206.2L715.6 199.7 M734.4 206.2L755.1 196.5 M573.5 119.3L558.4 118.3 M573.5 119.3L582.9 111.9 M582.9 111.9L584.0 107.8 M584.0 107.8L581.4 85.6 M558.4 118.3L550.1 107.6 M548.6 104.1L550.1 107.6 M548.6 104.1L559.2 74.9 M585.1 140.4L573.5 119.3 M543.9 145.4L558.4 118.3 M619.4 118.9L582.9 111.9 M609.2 88.5L584.0 107.8 M515.4 126.1L550.1 107.6 M533.8 98.5L548.6 104.1 M569.9 437.6L572.0 444.8 M569.9 437.6L552.8 429.2 M572.0 444.8L562.3 460.8 M552.8 429.2L528.1 450.4 M528.1 450.4L553.8 463.4 M553.8 463.4L562.3 460.8 M595.2 450.6L572.0 444.8 M595.2 450.6L594.8 480.0 M594.8 480.0L581.3 481.4 M581.3 481.4L562.3 460.8 M583.5 414.6L569.9 437.6 M583.5 414.6L575.9 403.8 M575.9 403.8L554.7 404.6 M552.8 429.2L547.6 414.1 M554.7 404.6L547.6 414.1 M457.3 516.2L431.4 502.3 M469.3 493.1L456.4 485.2 M456.4 485.2L431.4 502.3 M403.0 472.8L421.4 482.6 M420.9 508.4L425.6 502.9 M421.4 482.6L425.6 502.9 M425.6 502.9L431.4 502.3 M545.8 490.6L565.0 500.7 M545.8 490.6L545.5 490.7 M545.5 490.7L532.4 514.1 M568.1 511.7L565.0 500.7 M568.1 511.7L528.6 584.5 M581.3 481.4L565.0 500.7 M553.8 463.4L545.8 490.6 M527.8 450.4L528.1 450.4 M518.2 481.4L545.5 490.7 M507.7 487.5L532.4 514.1 M599.0 516.7L568.1 511.7 M474.9 414.9L449.1 417.3 M474.9 414.9L474.5 406.4 M441.1 401.6L457.6 382.1 M441.1 401.6L445.4 415.2 M474.5 406.4L457.6 382.1 M445.4 415.2L449.1 417.3 M401.7 415.9L420.2 428.4 M401.4 402.4L414.5 390.0 M441.1 401.6L414.5 390.0 M445.4 415.2L420.2 428.4 M294.2 258.2L310.4 273.8 M294.2 258.2L-226.8 294.8 M310.4 273.8L264.6 313.9 M301.7 247.2L294.2 258.2 M396.4 246.0L418.0 259.7 M396.4 246.0L384.8 262.4 M418.0 259.7L419.1 286.5 M419.1 286.5L399.5 286.8 M399.5 286.8L382.8 275.7 M384.8 262.4L382.8 275.7 M360.5 315.5L371.3 311.2 M360.5 315.5L339.2 307.5 M338.7 304.9L339.2 307.5 M338.7 304.9L366.3 279.3 M371.3 311.2L378.3 278.9 M366.3 279.3L378.3 278.9 M529.4 234.2L530.6 240.1 M529.4 234.2L565.4 220.6 M530.6 240.1L553.8 258.0 M568.3 230.1L565.4 220.6 M568.3 230.1L562.5 252.3 M562.5 252.3L553.8 258.0 M500.1 235.0L513.3 218.8 M513.3 218.8L529.4 234.2 M504.2 261.1L515.1 267.5 M515.1 267.5L530.6 240.1 M512.7 213.7L513.3 218.8 M565.6 219.4L565.4 220.6 M548.3 273.5L553.8 258.0 M518.3 274.1L515.1 267.5 M598.2 242.4L568.3 230.1 M581.2 262.2L599.7 255.7 M581.2 262.2L562.5 252.3 M556.9 288.5L576.1 291.8 M576.1 291.8L581.2 262.2 M469.9 313.6L459.7 283.9 M469.9 313.6L496.9 300.5 M496.9 300.5L499.7 295.5 M499.7 295.5L477.9 277.4 M477.9 277.4L459.7 283.9 M468.5 318.8L469.9 313.6 M468.5 318.8L430.5 318.7 M430.5 318.7L431.5 291.3 M449.0 279.4L431.5 291.3 M449.0 279.4L459.7 283.9 M476.5 340.3L468.5 318.8 M476.5 340.3L489.5 343.7 M489.5 343.7L492.4 343.1 M503.9 327.0L492.4 343.1 M503.9 327.0L496.9 300.5 M536.2 316.0L536.3 316.9 M513.0 290.1L499.7 295.5 M536.3 316.9L503.9 327.0 M484.7 264.6L477.9 277.4 M374.5 388.2L374.8 361.2 M414.5 390.0L418.5 371.3 M418.5 371.3L391.9 361.6 M374.8 361.2L391.9 361.6 M339.3 376.3L360.8 351.5 M360.8 351.5L370.4 354.9 M374.8 361.2L370.4 354.9 M575.9 403.8L578.8 392.7 M552.0 371.1L571.1 376.8 M552.0 371.1L545.2 381.2 M545.2 381.2L554.7 404.6 M578.8 392.7L571.1 376.8 M545.5 332.6L546.9 342.4 M545.5 332.6L580.6 310.8 M580.6 310.8L581.2 342.6 M547.8 343.4L578.0 345.2 M547.8 343.4L546.9 342.4 M581.2 342.6L578.0 345.2 M536.3 316.9L545.5 332.6 M515.9 355.3L492.4 343.1 M515.9 355.3L546.9 342.4 M576.1 291.8L587.4 300.7 M587.4 300.7L580.6 310.8 M552.0 371.1L547.8 343.4 M571.1 376.8L584.9 364.4 M584.9 364.4L578.0 345.2 M474.5 406.4L487.1 388.9 M458.1 376.2L457.6 382.1 M458.1 376.2L479.3 378.5 M487.1 388.9L479.3 378.5 M739.1 379.7L708.7 373.3 M739.1 379.7L743.1 353.7 M740.9 351.3L715.4 349.5 M715.4 349.5L708.4 372.9 M708.4 372.9L708.7 373.3 M703.7 401.5L708.7 373.3 M739.6 319.4L740.9 351.3 M708.2 342.1L717.1 313.8 M708.2 342.1L715.4 349.5 M708.2 342.1L696.7 343.1 M696.1 305.3L675.9 322.5 M696.7 343.1L675.9 322.5 M708.4 372.9L681.3 366.6 M696.7 343.1L681.3 366.6 M692.5 407.4L670.1 375.3 M670.1 375.3L671.2 370.5 M681.3 366.6L671.2 370.5 M578.8 392.7L612.6 378.7 M584.9 364.4L614.6 373.5 M612.6 378.7L614.6 373.5 M583.5 414.6L614.4 419.0 M612.6 378.7L614.4 419.0 M689.6 415.2L674.5 422.8 M670.1 375.3L652.0 389.3 M674.5 422.8L650.2 400.8 M652.0 389.3L650.2 400.8 M703.0 499.9L685.3 496.1 M703.0 499.9L707.8 512.5 M668.7 504.1L685.3 496.1 M696.7 459.7L689.4 462.0 M727.3 479.2L703.0 499.9 M689.4 462.0L685.3 496.1 M662.3 285.2L692.9 289.7 M662.3 285.2L654.4 293.4 M675.9 322.5L668.2 323.5 M668.2 323.5L653.2 299.7 M654.4 293.4L653.2 299.7 M700.8 264.7L664.1 259.5 M700.8 264.7L691.3 230.7 M673.1 225.0L691.3 230.7 M673.1 225.0L654.8 238.9 M664.1 259.5L654.4 246.0 M654.8 238.9L654.4 246.0 M662.3 285.2L664.1 259.5 M703.4 267.0L700.8 264.7 M699.8 226.7L691.3 230.7 M687.5 196.8L713.2 196.7 M673.9 201.1L673.1 225.0 M713.2 196.7L715.6 199.7 M638.2 226.4L654.8 238.9 M628.6 265.7L654.4 246.0 M628.6 265.7L631.6 274.9 M654.4 293.4L631.6 274.9 M628.6 265.7L618.3 263.4 M599.0 516.7L606.8 502.0 M629.1 501.3L606.8 502.0 M595.2 450.6L614.6 437.9 M594.8 480.0L598.2 482.1 M625.7 462.4L614.6 437.9 M625.7 462.4L624.7 468.3 M624.7 468.3L598.2 482.1 M598.2 482.1L606.8 502.0 M378.9 118.2L416.2 118.4 M378.9 118.2L379.7 140.7 M382.4 142.2L379.7 140.7 M382.4 142.2L410.1 135.0 M410.1 135.0L416.2 118.4 M419.3 114.0L416.2 118.4 M376.7 112.8L378.9 118.2 M353.6 146.9L379.7 140.7 M416.4 146.3L418.0 169.2 M416.4 146.3L410.1 135.0 M418.0 169.2L400.1 172.7 M382.4 142.2L390.5 167.2 M400.1 172.7L390.5 167.2 M355.9 165.3L373.2 175.4 M390.5 167.2L373.2 175.4 M690.9 165.9L702.8 163.6 M713.2 196.7L713.1 194.4 M702.8 163.6L713.1 194.4 M713.1 194.4L736.5 163.8 M734.0 147.8L736.5 163.8 M440.3 141.9L444.4 165.1 M440.3 141.9L449.9 121.0 M444.4 165.1L469.7 144.5 M449.9 121.0L468.0 132.1 M468.0 132.1L469.7 144.5 M442.5 170.0L444.4 165.1 M442.5 170.0L426.7 174.1 M416.4 146.3L440.3 141.9 M418.0 169.2L426.7 174.1 M449.8 121.0L449.9 121.0 M462.0 183.3L442.5 170.0 M481.6 159.0L469.7 144.5 M482.2 125.4L468.0 132.1 M515.8 440.2L515.6 437.9 M547.6 414.1L523.7 413.5 M523.7 413.5L515.6 437.9 M483.9 455.0L476.3 451.4 M476.3 451.4L476.3 416.2 M476.3 416.2L487.2 415.8 M487.2 415.8L515.6 437.9 M504.6 388.1L504.1 382.3 M504.6 388.1L512.8 396.9 M504.1 382.3L515.9 357.0 M512.8 396.9L515.8 397.9 M515.8 397.9L531.2 384.4 M515.9 357.0L531.2 384.4 M487.1 388.9L504.6 388.1 M489.5 366.1L504.1 382.3 M489.5 366.1L479.3 378.5 M476.3 416.2L474.9 414.9 M487.2 415.8L512.8 396.9 M489.5 343.7L489.5 366.1 M515.9 355.3L515.9 357.0 M523.7 413.5L515.8 397.9 M545.2 381.2L531.2 384.4 M422.7 448.6L424.6 443.0 M422.7 448.6L431.7 466.8 M424.6 443.0L450.0 442.3 M431.7 466.8L453.9 466.3 M450.0 442.3L462.7 454.6 M462.7 454.6L453.9 466.3 M404.7 455.9L422.7 448.6 M420.2 428.4L424.6 443.0 M421.4 482.6L431.7 466.8 M449.1 417.3L450.0 442.3 M456.4 485.2L453.9 466.3 M476.3 451.4L462.7 454.6 M426.7 174.1L425.9 193.8 M400.1 172.7L391.7 205.4 M391.7 205.4L425.9 193.8 M467.9 199.1L435.5 209.2 M435.5 209.2L433.2 208.6 M425.9 193.8L433.2 208.6 M447.9 271.6L437.0 258.0 M447.9 271.6L470.3 239.8 M437.0 258.0L436.6 242.0 M436.6 242.0L447.0 233.9 M447.0 233.9L467.0 234.8 M467.0 234.8L470.3 239.8 M418.0 259.7L437.0 258.0 M449.0 279.4L447.9 271.6 M419.1 286.5L431.5 291.3 M470.6 239.9L470.3 239.8 M435.5 209.2L447.0 233.9 M408.6 230.2L433.2 208.6 M408.6 230.2L436.6 242.0 M471.7 202.0L467.0 234.8 M332.6 340.9L320.6 353.2 M332.6 340.9L328.2 323.0 M328.2 323.0L293.0 317.5 M306.2 352.4L320.6 353.2 M306.2 352.4L290.0 318.4 M290.0 318.4L293.0 317.5 M326.6 371.5L320.6 353.2 M360.8 351.5L357.9 348.5 M357.9 348.5L332.6 340.9 M357.9 348.5L360.5 315.5 M339.2 307.5L328.2 323.0 M322.2 281.4L293.0 317.5 M322.2 281.4L338.7 304.9 M298.2 360.2L306.2 352.4 M322.1 280.0L310.4 273.8 M322.1 280.0L322.2 281.4 M343.9 233.0L363.7 250.3 M343.9 233.0L337.6 237.2 M363.7 250.3L345.8 270.3 M337.6 237.2L335.3 267.6 M335.3 267.6L345.8 270.3 M384.8 262.4L363.7 250.3 M366.3 279.3L345.8 270.3 M382.8 275.7L378.3 278.9 M325.2 235.1L337.6 237.2 M322.1 280.0L335.3 267.6 M458.1 376.2L456.1 371.9 M418.5 371.3L422.4 367.1 M422.4 367.1L456.1 371.9 M476.5 340.3L465.2 349.1 M465.2 349.1L456.1 371.9 M380.2 317.3L400.1 314.6 M380.2 317.3L382.1 339.5 M382.1 339.5L408.2 334.5 M400.1 314.6L417.5 330.0 M417.5 330.0L408.2 334.5 M399.5 286.8L400.1 314.6 M371.3 311.2L380.2 317.3 M370.4 354.9L382.1 339.5 M391.9 361.6L408.2 334.5 M617.7 422.8L634.0 415.2 M617.7 422.8L618.1 427.1 M618.1 427.1L663.4 448.9 M634.0 415.2L668.4 432.7 M668.4 432.7L663.4 448.9 M614.4 419.0L617.7 422.8 M652.0 389.3L615.2 373.0 M650.2 400.8L634.0 415.2 M615.2 373.0L614.6 373.5 M614.6 437.9L618.1 427.1 M625.7 462.4L663.6 453.6 M664.2 452.8L663.6 453.6 M664.2 452.8L663.4 448.9 M674.5 422.8L668.4 432.7 M689.4 462.0L664.2 452.8 M626.9 284.1L629.3 308.3 M626.9 284.1L597.0 298.8 M595.8 300.9L597.0 298.8 M595.8 300.9L613.2 317.2 M613.2 317.2L620.6 315.2 M629.3 308.3L620.6 315.2 M653.2 299.7L629.3 308.3 M631.6 274.9L626.9 284.1 M608.9 263.7L597.0 298.8 M587.4 300.7L595.8 300.9 M581.2 342.6L610.2 336.9 M610.2 336.9L613.2 317.2 M657.8 338.4L668.7 366.9 M657.8 338.4L656.4 338.5 M656.4 338.5L619.4 356.2 M668.7 366.9L618.8 362.3 M618.8 362.3L619.4 356.2 M671.2 370.5L668.7 366.9 M668.2 323.5L657.8 338.4 M620.6 315.2L656.4 338.5 M610.2 336.9L619.4 356.2 M615.2 373.0L618.8 362.3 M629.3 501.1L631.4 477.5 M629.3 501.1L662.2 506.2 M631.4 477.5L656.8 478.1 M656.8 478.1L664.3 504.4 M662.2 506.2L664.3 504.4 M629.1 501.3L629.3 501.1 M624.7 468.3L631.4 477.5 M663.6 453.6L656.8 478.1 M668.7 504.1L664.3 504.4 M723.8 143.9L710.5 152.7 M723.8 143.9L718.6 126.8 M710.5 152.7L693.3 143.0 M693.3 143.0L680.8 115.6 M718.6 126.8L707.6 117.8 M680.8 115.6L707.6 117.8 M702.8 163.6L710.5 152.7 M734.0 147.8L723.8 143.9 M739.1 103.4L718.6 126.8 M668.5 148.1L693.3 143.0 M680.4 115.5L680.8 115.6 M711.0 95.9L707.6 117.8 M397.4 240.6L401.2 231.8 M397.4 240.6L347.2 227.3 M401.2 231.8L389.4 208.7 M389.4 208.7L369.9 204.0 M369.9 204.0L352.8 208.3 M347.2 227.3L352.4 208.9 M352.8 208.3L352.4 208.9 M396.4 246.0L397.4 240.6 M408.6 230.2L401.2 231.8 M343.9 233.0L347.2 227.3 M391.7 205.4L389.4 208.7 M373.2 175.4L369.9 204.0 M342.0 185.3L352.8 208.3 M314.2 204.7L352.4 208.9 M462.1 348.1L423.4 345.0 M462.1 348.1L429.2 320.5 M423.4 345.0L418.8 330.2 M429.2 320.5L418.8 330.2 M422.4 367.1L423.4 345.0 M465.2 349.1L462.1 348.1 M430.5 318.7L429.2 320.5 M417.5 330.0L418.8 330.2" fill="none" stroke="#000" stroke-width="1"/></g>
<defs><clipPath id="atl"><polygon points="490.0,300.0 540.0,250.0 600.0,215.0 650.0,240.0 660.0,300.0 600.0,420.0 540.0,410.0 495.0,360.0"/></clipPath></defs>
<g clip-path="url(#atl)"><path d="M689.5 389.1L682.0 395.6 M682.0 395.6L673.5 407.4 M688.9 433.6L673.5 407.4 M473.1 178.7L437.3 201.9 M492.8 214.8L505.2 232.1 M492.8 214.8L492.5 210.5 M492.5 210.5L509.3 209.8 M509.3 209.8L514.6 224.9 M514.6 224.9L505.2 232.1 M479.3 203.0L487.7 206.2 M479.3 203.0L477.9 184.7 M487.7 206.2L500.5 191.7 M500.5 191.7L492.6 177.3 M477.9 184.7L492.6 177.3 M473.1 178.7L477.9 184.7 M465.2 210.2L437.3 201.9 M465.2 210.2L479.3 203.0 M508.8 187.7L500.5 191.7 M669.5 322.6L669.3 322.1 M680.5 299.4L669.3 322.1 M457.9 287.1L465.8 299.8 M457.9 287.1L-96.9 226.2 M466.0 304.0L465.8 299.8 M503.7 246.7L505.2 232.1 M503.7 246.7L517.0 247.8 M517.0 247.8L527.6 241.2 M514.6 224.9L525.9 228.4 M525.9 228.4L527.6 241.2 M541.6 267.5L538.3 244.5 M541.6 267.5L537.4 269.4 M517.0 247.8L522.9 265.5 M522.9 265.5L537.4 269.4 M538.3 244.5L527.6 241.2 M466.0 304.0L485.9 315.7 M465.8 299.8L486.2 290.3 M486.2 290.3L496.1 292.2 M496.1 292.2L501.9 313.4 M501.9 313.4L485.9 315.7 M469.0 343.5L481.8 326.6 M481.8 326.6L485.9 315.7 M503.7 246.7L499.3 249.0 M492.8 214.8L484.1 238.5 M499.3 249.0L484.1 238.5 M507.4 278.2L522.9 265.5 M507.4 278.2L507.1 278.1 M507.1 278.1L494.7 263.4 M499.3 249.0L494.7 263.4 M507.1 278.1L496.1 292.2 M486.2 290.3L481.0 267.9 M494.7 263.4L481.0 267.9 M457.9 287.1L468.5 266.7 M481.0 267.9L468.5 266.7 M550.8 268.8L578.5 279.7 M550.8 268.8L567.7 249.2 M578.5 279.7L584.5 272.1 M584.5 272.1L580.2 252.1 M567.7 249.2L580.2 252.1 M462.7 434.8L469.7 414.2 M460.2 404.3L469.7 414.2 M468.8 440.2L488.7 429.8 M495.9 435.1L488.7 429.8 M462.7 434.8L468.8 440.2 M689.5 389.1L670.9 367.7 M682.0 395.6L660.2 393.8 M660.2 393.8L658.6 373.5 M658.6 373.5L670.9 367.7 M688.9 433.6L671.2 442.6 M671.2 442.6L654.8 740.0 M660.2 393.8L644.6 407.9 M646.9 375.8L658.6 373.5 M646.9 375.8L641.7 388.6 M641.7 388.6L644.6 407.9 M507.4 278.2L517.5 286.5 M537.4 269.4L529.8 288.0 M529.8 288.0L517.5 286.5 M573.9 443.5L584.9 467.8 M573.9 443.5L563.9 438.5 M680.5 299.4L671.2 295.3 M669.3 322.1L662.2 310.7 M671.2 295.3L662.2 310.7 M509.3 209.8L522.6 201.6 M525.9 228.4L532.5 217.4 M532.5 217.4L522.6 201.6 M492.5 210.5L487.7 206.2 M508.8 187.7L523.2 199.3 M522.6 201.6L523.2 199.3 M523.2 199.3L538.8 184.3 M501.9 313.4L502.9 314.0 M517.5 286.5L511.3 312.7 M502.9 314.0L511.3 312.7 M465.6 227.3L449.7 247.1 M465.6 227.3L484.0 238.5 M484.0 238.5L464.2 258.2 M465.2 210.2L465.6 227.3 M484.1 238.5L484.0 238.5 M468.5 266.7L464.2 258.2 M538.3 244.5L548.4 239.3 M532.5 217.4L542.3 217.9 M548.4 239.3L542.3 217.9 M541.6 267.5L549.0 269.5 M549.0 269.5L550.8 268.8 M567.7 249.2L559.7 240.2 M548.4 239.3L559.7 240.2 M538.8 184.3L549.8 191.1 M549.8 191.1L555.5 209.3 M542.3 217.9L555.5 209.3 M495.9 435.1L508.1 424.3 M508.1 424.3L527.1 452.2 M488.7 429.8L483.8 416.5 M508.1 424.3L510.8 413.3 M483.8 416.5L510.8 413.3 M469.7 414.2L479.2 413.3 M483.8 416.5L479.2 413.3 M460.2 404.3L474.6 386.3 M479.2 413.3L491.4 391.2 M474.6 386.3L491.4 391.2 M642.6 371.7L634.1 349.4 M642.6 371.7L614.8 375.2 M614.8 375.2L616.1 356.6 M616.1 356.6L631.1 348.5 M631.1 348.5L634.1 349.4 M646.9 375.8L642.6 371.7 M611.3 384.9L641.7 388.6 M611.3 384.9L610.9 382.6 M610.9 382.6L614.8 375.2 M608.0 437.1L584.9 467.8 M608.0 437.1L620.0 441.0 M620.0 441.0L640.1 562.9 M608.0 437.1L605.4 431.9 M573.9 443.5L585.2 428.5 M605.4 431.9L585.2 428.5 M529.8 288.0L533.2 293.0 M511.3 312.7L514.8 313.5 M514.8 313.5L533.4 305.8 M533.2 293.0L533.4 305.8 M549.0 269.5L552.6 288.5 M533.2 293.0L552.6 288.5 M578.5 279.7L576.5 287.7 M552.6 288.5L565.3 300.3 M576.5 287.7L565.3 300.3 M533.4 305.8L550.5 316.7 M550.5 316.7L564.3 308.9 M565.3 300.3L564.3 308.9 M671.2 295.3L666.6 287.7 M690.7 262.2L666.6 287.7 M645.5 308.9L647.2 282.1 M645.5 308.9L662.2 310.7 M666.6 287.7L647.2 282.1 M646.4 238.7L652.2 264.3 M646.4 238.7L647.0 235.2 M671.2 259.9L652.2 264.3 M671.2 259.9L657.7 233.1 M657.7 233.1L647.0 235.2 M646.4 238.7L627.1 256.4 M627.1 256.4L619.4 253.2 M632.9 226.0L619.4 253.2 M632.9 226.0L635.7 225.4 M647.0 235.2L635.7 225.4 M514.8 313.5L527.2 332.8 M550.5 316.7L545.1 333.0 M545.1 333.0L544.7 333.2 M527.2 332.8L544.7 333.2 M538.2 372.6L529.8 373.5 M538.2 372.6L539.3 371.0 M529.8 373.5L527.0 349.1 M539.3 371.0L538.8 349.4 M538.8 349.4L527.0 349.1 M634.4 272.1L645.4 276.8 M634.4 272.1L613.0 277.4 M617.2 299.8L613.0 277.4 M617.2 299.8L647.0 282.0 M647.0 282.0L645.4 276.8 M627.1 256.4L634.4 272.1 M652.2 264.3L645.4 276.8 M607.3 273.8L613.0 277.4 M607.3 273.8L611.7 253.2 M619.4 253.2L611.7 253.2 M690.7 262.2L671.2 259.9 M647.2 282.1L647.0 282.0 M632.9 226.0L609.2 225.9 M611.7 253.2L604.1 244.6 M609.2 225.9L604.1 244.6 M584.5 272.1L599.8 275.1 M580.2 252.1L581.0 251.3 M599.8 275.1L607.3 273.8 M581.0 251.3L604.1 244.6 M559.7 240.2L563.8 226.8 M555.5 209.3L559.4 211.3 M559.4 211.3L563.8 226.8 M582.2 179.3L574.9 185.2 M582.2 179.3L636.9 -169.5 M568.4 184.0L574.9 185.2 M609.3 177.5L636.9 -169.5 M609.3 177.5L594.1 184.2 M594.1 184.2L582.2 179.3 M549.8 191.1L568.4 184.0 M618.2 193.1L623.9 193.8 M618.2 193.1L609.3 177.5 M623.9 193.8L642.7 170.8 M510.8 413.3L511.2 412.8 M496.0 389.5L491.4 391.2 M496.0 389.5L501.0 391.3 M511.2 412.8L501.0 391.3 M493.7 373.6L496.0 389.5 M493.7 373.6L514.3 362.7 M526.7 374.2L514.3 362.7 M526.7 374.2L524.2 377.8 M524.2 377.8L501.0 391.3 M457.8 368.7L471.2 379.5 M457.8 368.7L471.4 348.6 M471.2 379.5L488.6 366.9 M471.4 348.6L484.9 352.5 M484.9 352.5L488.6 366.9 M474.6 386.3L471.2 379.5 M469.0 343.5L471.4 348.6 M493.7 373.6L488.6 366.9 M637.2 348.1L653.6 334.1 M637.2 348.1L671.5 362.1 M674.1 355.0L660.9 334.7 M674.1 355.0L671.5 362.1 M660.9 334.7L653.6 334.1 M670.9 367.7L671.5 362.1 M634.1 349.4L637.2 348.1 M669.5 322.6L660.9 334.7 M645.5 308.9L640.2 315.0 M640.2 315.0L653.6 334.1 M626.1 438.0L642.5 442.6 M626.1 438.0L632.8 418.4 M642.5 442.6L658.3 433.0 M658.3 433.0L653.7 416.6 M653.7 416.6L644.4 409.6 M632.8 418.4L639.7 411.0 M644.4 409.6L639.7 411.0 M620.0 441.0L626.1 438.0 M607.6 419.2L605.4 431.9 M607.6 419.2L632.8 418.4 M671.2 442.6L658.3 433.0 M673.5 407.4L653.7 416.6 M644.6 407.9L644.4 409.6 M608.9 396.5L639.7 411.0 M608.9 396.5L603.2 402.6 M607.6 419.2L603.2 402.6 M611.3 384.9L608.9 396.5 M602.3 402.6L582.7 420.4 M602.3 402.6L578.0 394.8 M578.0 394.8L575.7 395.7 M575.7 395.7L578.6 417.8 M578.6 417.8L582.7 420.4 M603.2 402.6L602.3 402.6 M585.2 428.5L582.7 420.4 M610.9 382.6L591.4 373.2 M591.4 373.2L584.4 376.5 M584.4 376.5L578.0 394.8 M563.9 438.5L563.0 437.1 M567.5 419.4L563.0 437.1 M567.5 419.4L578.6 417.8 M599.8 275.1L599.0 290.7 M576.5 287.7L588.6 294.9 M599.0 290.7L588.6 294.9 M599.0 290.7L612.4 307.0 M588.6 294.9L600.5 314.6 M600.5 314.6L612.4 307.0 M640.2 315.0L630.3 316.5 M631.1 348.5L626.0 334.2 M630.3 316.5L626.0 334.2 M617.2 299.8L615.0 306.2 M630.3 316.5L615.0 306.2 M615.0 306.2L612.4 307.0 M511.1 354.9L518.2 343.3 M511.1 354.9L491.9 349.5 M491.9 349.5L496.9 337.6 M518.4 342.0L518.2 343.3 M518.4 342.0L502.2 330.7 M496.9 337.6L502.2 330.7 M526.7 374.2L529.8 373.5 M514.3 362.7L511.1 354.9 M527.0 349.1L518.2 343.3 M484.9 352.5L491.9 349.5 M481.8 326.6L496.9 337.6 M527.2 332.8L518.4 342.0 M544.7 333.2L538.8 349.4 M502.9 314.0L502.2 330.7 M561.8 344.5L571.2 356.9 M561.8 344.5L558.8 343.8 M558.8 343.8L547.4 366.6 M547.4 366.6L568.7 365.3 M568.7 365.3L571.2 356.9 M564.3 308.9L570.8 313.6 M545.1 333.0L558.8 343.8 M570.8 313.6L574.4 334.6 M574.4 334.6L561.8 344.5 M539.3 371.0L547.4 366.6 M591.4 373.2L592.0 350.5 M584.4 376.5L570.0 368.3 M570.0 368.3L568.7 365.3 M592.0 350.5L571.2 356.9 M538.5 425.5L526.1 412.0 M538.5 425.5L541.6 425.0 M541.6 425.0L557.3 409.0 M528.1 407.7L526.1 412.0 M528.1 407.7L553.0 391.5 M557.3 409.0L559.2 394.9 M553.0 391.5L558.4 394.1 M558.4 394.1L559.2 394.9 M527.1 452.2L538.5 425.5 M511.2 412.8L526.1 412.0 M563.0 437.1L541.6 425.0 M567.5 419.4L557.3 409.0 M524.2 377.8L528.1 407.7 M538.2 372.6L553.0 391.5 M575.7 395.7L559.2 394.9 M570.0 368.3L558.4 394.1 M668.0 229.6L666.6 229.0 M668.0 229.6L721.4 214.5 M666.6 229.0L670.6 204.9 M670.6 204.9L680.4 202.6 M657.7 233.1L666.6 229.0 M665.9 187.4L646.5 179.5 M665.9 187.4L665.5 201.3 M665.5 201.3L651.7 200.2 M646.5 179.5L651.7 200.2 M670.6 204.9L665.5 201.3 M638.1 208.2L635.7 225.4 M638.1 208.2L651.7 200.2 M623.9 193.8L638.1 208.2 M604.2 206.3L607.2 223.5 M604.2 206.3L595.7 202.5 M607.2 223.5L583.8 225.1 M595.7 202.5L580.1 204.2 M580.1 204.2L578.8 206.0 M578.8 206.0L583.7 225.0 M583.8 225.1L583.7 225.0 M618.2 193.1L604.2 206.3 M609.2 225.9L607.2 223.5 M594.1 184.2L595.7 202.5 M581.0 251.3L583.8 225.1 M574.9 185.2L580.1 204.2 M559.4 211.3L578.8 206.0 M563.8 226.8L583.7 225.0 M589.4 341.1L598.2 316.9 M589.4 341.1L592.5 349.9 M603.5 350.3L592.5 349.9 M603.5 350.3L610.9 332.9 M610.9 332.9L599.0 316.4 M599.0 316.4L598.2 316.9 M570.8 313.6L598.2 316.9 M574.4 334.6L589.4 341.1 M592.0 350.5L592.5 349.9 M616.1 356.6L603.5 350.3 M626.0 334.2L610.9 332.9 M600.5 314.6L599.0 316.4" fill="none" stroke="#000" stroke-width="1"/></g>
</g>
<polygon points="88.8,385.0 105.0,378.8 115.0,377.0 126.2,374.5 132.5,378.8 140.0,382.5 150.0,385.0 160.0,388.8 177.5,393.8 178.8,400.0 170.0,458.8 176.2,461.2 181.2,467.5 186.2,473.8 183.8,476.2 177.5,470.5 171.2,465.0 165.0,460.0 155.0,457.5 147.5,452.5 137.5,447.5 130.0,452.5 122.5,458.8 116.0,462.5 104.0,473.0 95.0,477.5 83.0,480.5 72.5,483.5 71.0,482.0 83.0,477.5 92.0,474.5 104.0,468.5 107.0,459.5 101.0,459.5 89.0,456.5 90.5,447.5 80.0,440.0 78.8,435.0 85.0,425.0 93.8,423.8 100.0,420.0 101.2,416.2 92.5,415.0 83.8,413.8 77.5,405.0 82.5,402.5 92.5,401.2 100.0,406.2 102.5,403.8 97.5,397.5 88.8,390.0 87.5,385.0" fill="#0000ff" stroke="#000" stroke-width="1.5" stroke-linejoin="round"/>
<polygon points="183.2,468.0 189.2,466.8 198.5,483.2 206.8,494.8 206.8,500.8 202.0,503.5 195.0,503.5 191.5,493.8 184.5,479.8" fill="#000" stroke="#000" stroke-width="1" stroke-linejoin="round"/>
<polygon points="187.5,471.2 190.0,471.2 193.8,480.0 191.2,480.5" fill="#0000ff"/>
<polygon points="190.0,485.0 193.8,484.5 200.0,495.0 196.2,496.2" fill="#0000ff"/>
<polygon points="200.0,490.0 203.8,492.5 205.0,500.0 202.0,499.0" fill="#0000ff"/>
<polygon points="146.2,423.8 157.5,422.5 162.5,426.2 157.5,428.8 147.5,428.8" fill="#ffffff" stroke="#000" stroke-width="1" stroke-linejoin="round"/>
<polygon points="126.2,437.5 140.0,435.0 151.2,436.2 148.8,446.2 140.0,447.5 127.5,445.0" fill="#ffffff" stroke="#000" stroke-width="1" stroke-linejoin="round"/>
<polygon points="60.0,415.0 65.0,415.0 71.2,420.0 67.5,421.2 61.2,418.8" fill="#0000ff" stroke="#000" stroke-width="1" stroke-linejoin="round"/>
<polygon points="72.5,441.2 77.5,441.2 77.5,446.2 72.5,445.0" fill="#0000ff" stroke="#000" stroke-width="1" stroke-linejoin="round"/>
<polygon points="28.2,488.0 33.5,488.0 34.2,490.2 29.0,490.2" fill="#000" stroke="#000" stroke-width="1" stroke-linejoin="round"/>
<polygon points="53.0,489.5 60.0,486.0 65.0,484.0 66.5,486.5 56.0,490.2" fill="#000" stroke="#000" stroke-width="1" stroke-linejoin="round"/>
<polygon points="90.5,483.0 92.0,483.5 91.5,485.5" fill="#000" stroke="#000" stroke-width="1" stroke-linejoin="round"/>
<polygon points="115.0,467.5 125.0,465.0 123.8,473.8 116.2,475.0" fill="#0000ff" stroke="#000" stroke-width="1" stroke-linejoin="round"/>
<polygon points="128.8,453.8 136.2,451.2 140.0,455.0 133.8,460.0 127.5,460.0" fill="#0000ff" stroke="#000" stroke-width="1" stroke-linejoin="round"/>
<polygon points="97.0,320.0 103.0,321.0 104.0,323.0 98.0,322.0" fill="#000"/>
<polygon points="110.0,330.0 114.0,331.0 118.0,335.0 116.0,336.0 111.0,332.0" fill="#000"/>
<polygon points="113.5,339.0 115.5,339.0 116.0,342.0 114.0,342.0" fill="#000"/>
<polygon points="71.0,359.5 72.5,359.5 72.5,361.0 71.0,361.0" fill="#000"/>
<polygon points="7.0,304.5 9.0,304.5 9.0,306.0 7.0,306.0" fill="#000"/>
<polygon points="203.8,436.9 208.8,436.2 210.0,438.8 208.8,441.5 205.6,441.2 203.8,438.8" fill="#ffffff" stroke="#000" stroke-width="1" stroke-linejoin="round"/>
<polygon points="197.5,440.6 200.0,438.8 200.6,440.0 198.8,441.5" fill="#ffffff" stroke="#000" stroke-width="1" stroke-linejoin="round"/>
<polygon points="221.9,446.9 225.0,445.6 226.9,447.5 227.5,450.0 228.8,451.9 226.2,452.2 223.1,451.2 221.2,448.8" fill="#ffffff" stroke="#000" stroke-width="1" stroke-linejoin="round"/>
<polygon points="232.5,453.8 236.2,453.1 240.0,454.4 238.8,456.2 233.8,455.6" fill="#ffffff" stroke="#000" stroke-width="1" stroke-linejoin="round"/>
<polygon points="235.6,458.1 238.1,458.1 238.1,460.6 236.2,460.6" fill="#ffffff" stroke="#000" stroke-width="1" stroke-linejoin="round"/>
<polygon points="240.0,457.5 242.5,457.5 246.9,458.8 248.8,461.2 247.5,463.1 242.5,463.8 240.0,463.8 241.2,461.2" fill="#ffffff" stroke="#000" stroke-width="1" stroke-linejoin="round"/>
<polygon points="250.0,468.1 252.5,468.8 257.5,472.5 261.2,478.8 260.0,481.9 253.8,483.8 250.6,487.5 247.5,485.0 246.9,478.8 246.2,475.0 248.8,471.9" fill="#ffffff" stroke="#000" stroke-width="1" stroke-linejoin="round"/>
<polygon points="755.8,511.0 765.0,508.8 771.1,507.5 777.2,507.1 778.1,510.1 773.8,512.8 766.8,515.4 758.9,518.0 757.1,519.8 755.4,515.4" fill="#000" stroke="#000" stroke-width="1" stroke-linejoin="round"/>
<polygon points="757.1,512.3 760.2,511.4 760.6,514.5 757.6,514.9" fill="#ffffff"/>
<polygon points="758.0,515.8 760.6,515.4 760.2,517.6 758.4,517.8" fill="#ffffff"/>
<polygon points="763.2,514.5 766.8,514.1 766.8,515.4 763.7,515.8" fill="#ffffff"/>
<polygon points="747.1,519.3 748.5,519.3 748.5,520.6 747.1,520.6" fill="#000"/>
<polygon points="780.3,506.2 781.6,506.2 781.6,507.5 780.3,507.5" fill="#000"/>
<polygon points="764.1,510.6 775.5,508.6 774.2,512.3 765.9,512.9" fill="#afeeee"/>
<polygon points="784.2,504.4 788.6,504.0 786.0,506.6" fill="#000" stroke="#000" stroke-width="1" stroke-linejoin="round"/>
<polygon points="788.6,512.3 792.6,511.0 790.4,513.6" fill="#000" stroke="#000" stroke-width="1" stroke-linejoin="round"/>
<g fill="none" stroke="#000" stroke-width="1">
<polyline points="101.2,146.8 108.2,149.3 111.2,153.6 110.6,157.7 119.0,159.1 125.6,161.4 131.8,160.7 142.0,160.7 148.0,160.9 168.1,165.1"/>
<polyline points="168.1,165.1 168.1,159.3 174.8,125.2"/>
<polyline points="168.1,165.1 170.2,171.0 166.7,178.6 160.9,187.3 162.5,194.6 160.7,197.0 156.4,218.6"/>
<polyline points="83.9,201.7 126.2,212.2 156.4,218.6 186.8,224.2 217.6,229.0"/>
<polyline points="126.2,212.2 117.0,252.8 164.1,319.2 163.5,324.7 164.5,332.0 159.4,341.1 160.7,347.0 157.6,350.4"/>
<polyline points="186.8,224.2 173.4,303.7 165.3,304.5 164.1,319.2"/>
<polyline points="184.0,127.0 181.5,140.2 183.5,148.1 189.0,155.9 192.1,160.6 192.6,169.6 190.6,175.4 197.5,175.9 199.6,184.6 202.9,192.7 208.9,193.6 218.0,193.6 222.4,194.9"/>
<polyline points="223.3,188.2 215.7,242.7 236.5,245.4 220.2,379.4"/>
<polyline points="223.3,188.2 292.9,195.7"/>
<polyline points="296.9,141.9 288.8,250.5 309.8,251.9 306.6,307.5"/>
<polyline points="175.2,292.7 296.2,306.9 388.5,309.3"/>
<polyline points="295.7,306.8 291.2,376.7 249.5,373.2 249.5,376.0"/>
<polyline points="295.3,313.8 329.0,315.5 328.0,342.7 333.5,345.1 344.8,349.6 356.2,353.3 366.5,353.4 379.0,353.0 390.5,356.3 395.8,357.4 396.2,379.1 400.4,387.5 401.8,398.6 399.1,411.3"/>
<polyline points="388.5,309.3 388.6,316.3 391.0,331.7 390.7,356.3"/>
<polyline points="293.9,182.9 367.8,185.9"/>
<polyline points="361.6,144.7 364.6,164.8 367.8,185.9 368.8,194.6 368.7,219.2 367.1,233.0"/>
<polyline points="290.9,223.0 347.7,225.8 357.9,228.1 367.1,233.0"/>
<polyline points="309.0,265.8 380.8,267.5"/>
<polyline points="367.1,233.0 372.3,246.8 374.9,259.2 380.8,267.5 385.1,275.9 388.4,280.0 388.6,309.3"/>
<polyline points="368.7,219.2 422.0,218.1"/>
<polyline points="411.4,174.2 409.8,183.1 405.6,190.0 405.4,201.6 412.6,206.2 422.0,218.1"/>
<polyline points="375.7,259.5 418.7,258.3 421.8,261.3"/>
<polyline points="422.0,218.1 423.7,229.1 429.1,233.0 433.6,241.0 429.7,245.4 425.7,249.7 424.9,255.3 421.8,261.3 422.2,266.5 428.0,276.0 435.9,282.6 436.5,293.7 444.7,303.0 448.8,307.0 445.4,314.2 443.6,321.3 439.8,334.1 434.7,344.2 428.5,358.5 429.1,364.1 429.2,375.3 425.0,385.3 424.8,392.3 447.3,391.2 449.5,402.3"/>
<polyline points="428.6,231.6 457.8,229.8"/>
<polyline points="428.2,175.9 441.3,181.5 450.3,183.0 454.9,190.8 457.1,194.1"/>
<polyline points="388.6,316.3 438.2,314.6 436.1,321.8 443.6,321.3"/>
<polyline points="395.9,364.9 429.1,364.1"/>
<polyline points="461.3,334.1 461.3,377.7 463.6,398.6"/>
<polyline points="437.6,335.6 504.9,330.2"/>
<polyline points="445.4,314.2 461.4,313.1 461.2,310.6 509.5,307.1 594.8,294.9"/>
<polyline points="531.5,304.5 528.9,311.8 518.5,318.8 504.9,330.2"/>
<polyline points="490.5,331.7 500.8,365.8 501.0,372.8 503.0,386.7"/>
<polyline points="472.4,389.5 503.0,386.7"/>
<polyline points="472.4,389.5 474.4,399.2"/>
<polyline points="503.0,386.7 505.0,390.6 538.9,388.2 539.1,389.5 545.2,385.9"/>
<polyline points="518.6,328.6 524.9,333.5 533.6,347.9 540.8,358.2 547.8,366.5"/>
<polyline points="518.6,328.6 526.1,324.9 541.8,323.5 544.7,328.0 557.0,326.2 572.0,337.3"/>
<polyline points="448.8,307.0 455.9,305.1 460.4,299.2 466.0,293.1 476.8,291.5 484.0,287.4 491.9,278.9 496.8,273.5 506.0,278.8 518.3,280.8 525.6,270.0 530.4,265.2 534.3,259.0 536.2,247.0"/>
<polyline points="518.3,280.8 526.4,292.4 531.3,304.4"/>
<polyline points="526.4,292.4 535.5,294.7 544.8,289.8 548.6,278.0 555.4,265.7 562.1,260.3 568.1,260.5"/>
<polyline points="536.2,247.0 538.0,259.6 549.0,257.9 550.1,265.1 560.6,257.8 568.1,260.5 575.9,264.3 578.3,271.7 586.8,275.8"/>
<polyline points="549.0,257.9 587.8,251.3 592.0,268.3 598.9,267.0"/>
<polyline points="489.6,238.0 493.3,273.8"/>
<polyline points="461.4,239.7 464.0,272.3 463.8,279.3 460.1,295.0"/>
<polyline points="461.7,239.7 503.8,236.4"/>
<polyline points="533.5,228.7 536.2,247.0"/>
<polyline points="541.3,227.2 586.3,219.4 589.4,221.6 594.7,226.7 592.1,235.2 594.2,240.4 597.1,244.1 590.6,249.6"/>
<polyline points="594.7,226.7 602.9,230.3"/>
<polyline points="598.2,174.8 599.6,184.4 605.4,204.9 605.0,214.9 607.2,225.0 606.5,229.4"/>
<polyline points="616.1,170.8 613.1,180.0 611.7,197.2 613.5,203.4"/>
<polyline points="605.4,204.9 625.3,201.2 629.7,197.7"/>
<polyline points="616.3,164.5 622.0,184.2 627.1,193.2"/>
<polyline points="605.0,214.9 622.4,211.5 626.6,210.5 630.9,216.9"/>
<polyline points="622.4,211.5 624.5,220.8"/>
<polyline points="255.0,192.5 260.0,210.0 255.0,227.5" stroke-width="1"/>
<polyline points="248.8,240.0 255.0,227.5" stroke-width="1"/>
<polyline points="102.5,116.9 110.0,121.2 118.8,125.6" stroke-width="1"/>
<polyline points="102.5,143.8 110.0,146.9 127.5,150.0" stroke-width="1"/>
<polyline points="140.0,118.8 140.0,126.2 142.5,131.2 148.8,132.5 153.8,133.1 151.2,136.2 145.0,140.0 141.2,142.5 135.0,136.9 131.2,140.0 130.0,142.5" stroke-width="1"/>
<polyline points="162.5,123.8 165.0,128.8 162.5,135.0 160.0,136.2 163.8,141.2 165.0,147.5 170.0,148.8 172.5,156.2 170.0,162.5" stroke-width="1"/>
<polyline points="130.0,142.5 127.5,150.0 123.8,156.2 123.8,158.8 137.5,161.2 160.0,163.8 165.0,160.0 170.0,161.2" stroke-width="1"/>
<polyline points="131.2,142.5 141.2,151.2 157.5,153.8 162.5,161.2" stroke-width="1"/>
<polyline points="137.5,161.2 138.8,185.0" stroke-width="1"/>
<polyline points="120.0,157.5 121.2,163.8 118.8,176.2 122.5,185.0" stroke-width="1"/>
<polyline points="151.2,158.8 157.5,152.5 162.5,157.5" stroke-width="1"/>
<polyline points="91.5,194.5 105.5,194.5 107.2,205.0" stroke-width="1"/>
<polyline points="112.5,185.8 131.8,191.0 130.0,203.2 135.2,212.0" stroke-width="1"/>
<polyline points="103.8,170.0 117.8,170.0 121.2,180.5 131.8,189.2" stroke-width="1"/>
<polyline points="95.0,194.5 94.1,205.9" stroke-width="1"/>
<polyline points="84.5,229.5 90.6,240.0 93.2,248.8" stroke-width="1"/>
<polyline points="81.0,247.0 89.8,252.2 93.2,261.0" stroke-width="1"/>
<polyline points="131.8,214.6 124.8,250.5" stroke-width="1"/>
<polyline points="179.0,213.8 189.5,212.0 193.0,205.0 200.0,203.2" stroke-width="1"/>
<polyline points="186.0,240.0 200.0,241.8" stroke-width="1"/>
<polyline points="291.2,222.5 310.0,225.0 350.0,225.0" stroke-width="1"/>
<polyline points="310.0,225.0 310.0,252.5" stroke-width="1"/>
<polyline points="335.0,185.0 336.2,195.0 345.0,212.5 350.0,225.0 365.0,240.0" stroke-width="1"/>
<polyline points="330.0,227.5 347.5,227.5 350.0,242.5 345.0,255.0 355.0,257.5 362.5,252.5 360.0,240.0 350.0,225.0" stroke-width="1"/>
<polyline points="343.8,247.5 355.0,247.5 355.0,255.0 343.8,255.0 343.8,247.5" stroke-width="1"/>
<polyline points="330.0,227.5 330.0,240.0 340.0,242.5 345.0,255.0" stroke-width="1"/>
<polyline points="235.0,270.0 250.0,272.5 265.0,275.0" stroke-width="1"/>
<polyline points="253.8,285.0 275.0,285.0 285.0,295.0" stroke-width="1"/>
<polyline points="252.5,267.5 252.5,280.0 265.0,280.0" stroke-width="1"/>
<polyline points="210.0,300.0 211.2,330.0" stroke-width="1"/>
<polyline points="227.5,300.0 228.8,330.0" stroke-width="1"/>
<polyline points="245.0,305.0 245.0,330.0" stroke-width="1"/>
<polyline points="255.0,310.0 282.5,310.0 287.5,320.0 290.0,330.0" stroke-width="1"/>
<polyline points="345.0,293.8 365.0,293.8 365.0,305.0 345.0,305.0 345.0,293.8" stroke-width="1"/>
<polyline points="188.0,294.0 190.0,302.0 180.0,308.0 179.0,316.0 177.0,336.0" stroke-width="1"/>
<polyline points="210.0,298.0 206.0,336.0" stroke-width="1"/>
<polyline points="180.0,315.0 196.0,332.0 206.0,336.0" stroke-width="1"/>
<polyline points="166.0,306.0 176.0,304.0 188.0,298.0" stroke-width="1"/>
<polyline points="164.0,316.0 164.0,330.0 176.0,332.0" stroke-width="1"/>
<polyline points="160.0,342.0 172.0,344.0" stroke-width="1"/>
<polyline points="206.0,363.0 221.0,365.0 220.0,380.0" stroke-width="1"/>
<polyline points="196.0,372.0 204.0,371.0 204.0,378.0" stroke-width="1"/>
<polyline points="228.0,315.0 244.0,317.0 247.0,336.0 241.0,338.0 237.0,355.0 224.0,356.0" stroke-width="1"/>
<polyline points="244.0,304.0 246.0,316.0 254.0,319.0 258.0,332.0 264.0,330.0 264.0,320.0 260.0,319.0" stroke-width="1"/>
<polyline points="254.0,332.0 256.0,342.0 268.0,342.0 269.0,332.0 288.0,331.0 280.0,322.0 286.0,308.0" stroke-width="1"/>
<polyline points="242.0,376.0 242.0,362.0 253.0,360.0 252.0,376.0" stroke-width="1"/>
<polyline points="294.0,326.0 316.0,328.0 315.0,340.0 304.0,338.0 303.0,332.0 294.0,332.0" stroke-width="1"/>
<polyline points="268.0,376.0 268.0,388.0 269.0,396.0" stroke-width="1"/>
<polyline points="88.8,247.5 95.0,258.8" stroke-width="1"/>
<polyline points="88.8,281.2 92.5,292.5 105.0,297.5" stroke-width="1"/>
<polyline points="445.5,305.0 442.5,317.0 438.0,329.0 429.0,339.5 432.0,350.0 427.5,362.0 430.0,370.0 430.5,380.0 425.0,393.0 424.0,400.0" stroke-width="2"/>
<polyline points="400.0,364.4 428.8,363.1" stroke-width="1"/>
<polyline points="400.0,350.0 426.2,350.0" stroke-width="1"/>
<polyline points="446.2,363.8 461.2,362.5 480.0,365.0 500.0,363.8" stroke-width="1"/>
<polyline points="461.2,340.0 461.2,362.5 462.5,392.5" stroke-width="1"/>
<polyline points="435.0,365.0 442.5,363.8 446.2,368.8 446.2,381.2 435.0,381.2 435.0,365.0" stroke-width="1"/>
<polyline points="445.0,381.2 443.8,390.0 452.5,391.2 461.2,390.0" stroke-width="1"/>
<polyline points="447.5,385.0 456.2,383.8 457.5,390.0 448.8,390.0 447.5,385.0" stroke-width="1"/>
<polyline points="405.0,366.2 410.0,365.0 418.8,366.2 421.2,371.2 420.0,381.2 412.5,381.2 407.5,376.2 405.0,371.2" stroke-width="1"/>
<polyline points="408.8,382.5 415.0,381.2 418.8,387.5 416.2,395.0 410.0,395.0 408.8,382.5" stroke-width="1"/>
<polyline points="400.0,393.8 423.8,392.5 437.5,392.5 450.0,395.0 467.5,397.5 500.0,393.8" stroke-width="1"/>
<polyline points="422.5,392.5 422.5,400.0 427.5,407.5" stroke-width="1"/>
<polyline points="400.0,402.5 413.8,400.0 415.0,415.0" stroke-width="1"/>
<polyline points="467.5,365.0 470.0,368.8 473.8,365.0" stroke-width="1"/>
<polyline points="477.5,366.2 480.0,372.5 481.2,381.2 490.0,381.2 490.0,372.5 498.8,371.2" stroke-width="1"/>
<polyline points="481.2,381.2 482.5,397.5" stroke-width="1"/>
<polyline points="467.5,386.2 470.0,397.5" stroke-width="1"/>
<polyline points="473.8,390.0 475.0,397.5" stroke-width="1"/>
<polyline points="491.2,387.5 490.0,396.2" stroke-width="1"/>
<polyline points="462.5,347.5 470.0,347.5 473.8,353.8 472.5,360.0 465.0,356.2" stroke-width="1"/>
<polyline points="547.5,471.2 555.0,468.8 561.2,465.5 566.2,461.2" stroke-width="1.5"/>
<polyline points="536.2,471.2 538.8,471.2" stroke-width="1.5"/>
<polyline points="535.0,427.5 545.0,422.5 555.0,425.0 560.0,425.0" stroke-width="1"/>
<polyline points="542.5,440.0 557.5,435.0" stroke-width="1"/>
<polyline points="545.0,410.0 560.0,417.5" stroke-width="1"/>
<polyline points="547.5,425.0 550.0,450.0 560.0,455.0" stroke-width="1"/>
<polyline points="532.5,422.5 535.0,430.0" stroke-width="2"/>
<polygon points="101.5,116.5 107.6,121.0 114.6,122.5 116.8,116.1 119.2,112.6 240.8,136.1 335.3,144.0 361.6,144.7 381.4,144.7 381.4,139.6 383.2,139.8 384.5,144.7 386.7,148.4 394.3,150.9 401.0,149.4 408.8,153.5 416.6,156.5 423.2,154.2 431.0,155.8 434.9,156.4 426.4,161.4 418.1,169.2 411.4,174.2 416.3,172.7 422.1,172.0 427.2,175.6 432.9,173.2 438.7,170.9 442.3,167.3 448.8,162.7 453.2,162.4 449.3,168.8 447.5,171.0 454.6,175.2 461.5,175.3 466.4,174.2 472.0,171.0 480.7,169.4 482.0,172.7 485.0,173.1 490.1,174.6 495.3,176.7 492.5,178.6 484.7,179.9 477.7,178.9 472.9,181.1 468.2,183.6 462.3,184.8 459.7,189.1 457.1,194.1 455.0,199.7 453.7,201.8 458.4,197.4 462.9,190.9 459.6,200.7 458.6,206.3 457.4,210.5 456.2,221.6 457.9,231.1 460.8,240.6 465.0,241.4 469.0,239.2 470.5,232.9 470.1,221.8 466.7,212.5 468.8,201.3 472.2,194.8 475.9,191.1 481.5,187.1 484.5,182.3 490.1,183.4 497.5,186.7 500.0,191.2 499.8,198.1 499.3,202.3 495.7,206.8 499.2,210.6 502.8,206.0 506.5,203.5 510.3,209.2 512.4,217.3 512.1,222.9 508.4,226.8 506.8,231.2 503.8,236.4 509.7,237.8 514.1,239.3 522.2,236.9 528.8,231.1 533.7,228.7 540.7,223.5 547.5,216.4 548.1,213.5 545.8,209.0 551.2,206.8 560.5,206.6 567.4,204.7 573.9,200.7 572.9,195.3 571.2,191.5 575.5,187.2 579.4,180.8 584.9,177.7 598.2,174.8 616.1,170.8 616.1,164.5 618.7,162.5 620.0,159.4 621.8,154.1 622.2,147.7 622.2,143.5 627.0,131.7 631.0,134.3 636.1,130.8 641.8,133.3 645.9,147.9 650.3,151.6 653.1,156.5 657.9,160.6 655.3,164.4 650.8,167.0 647.4,170.1 641.6,171.6 639.8,177.0 633.8,182.0 630.3,185.0 628.2,189.1 627.2,193.6 630.3,200.0 632.6,200.8 629.6,205.8 633.2,207.8 636.2,211.3 641.3,210.1 639.4,207.0 641.3,208.0 642.2,211.7 637.9,213.8 635.0,215.2 631.1,216.8 628.2,218.2 623.6,221.4 613.5,224.4 606.1,230.2 613.3,228.6 623.3,225.0 617.7,229.1 609.2,234.5 604.1,236.0 604.6,238.3 605.5,248.0 603.4,253.4 599.2,260.2 597.5,256.7 591.5,254.4 597.5,262.4 599.0,267.1 598.0,273.7 595.6,281.2 592.7,286.8 591.0,280.7 586.8,275.8 584.2,267.8 583.7,259.4 585.1,254.9 581.4,258.4 582.6,270.9 587.0,277.2 587.5,285.6 592.8,290.0 596.1,295.4 600.6,304.5 602.6,311.9 598.3,313.4 592.7,320.2 587.6,324.0 582.4,327.0 579.2,335.4 571.4,337.4 566.1,347.5 558.2,357.2 550.8,362.5 547.9,367.2 545.8,377.3 545.2,385.9 546.5,391.4 550.0,399.4 553.4,406.0 559.5,415.0 561.7,421.7 567.0,432.2 570.4,438.7 571.1,451.3 569.0,458.7 566.2,461.2 560.0,462.0 556.4,454.8 549.5,450.1 543.3,441.1 537.4,433.4 534.1,426.8 535.0,419.7 533.0,412.9 526.9,408.0 520.0,400.4 514.9,398.1 511.5,399.9 504.9,405.9 500.0,404.6 497.1,400.0 486.1,396.8 474.4,399.2 468.5,400.3 465.7,395.6 463.6,398.8 456.5,399.0 449.5,402.3 448.4,404.4 452.1,406.3 454.9,411.8 457.6,415.8 452.9,418.9 449.1,414.9 444.4,418.0 438.4,418.3 433.5,417.1 427.4,414.6 423.7,413.4 417.7,412.9 406.8,410.4 399.1,411.3 392.5,414.2 388.9,416.3 384.2,419.9 379.4,424.1 370.9,428.3 366.0,431.1 359.9,438.0 356.7,445.0 356.0,451.9 358.4,463.1 359.0,463.8 354.6,464.7 344.7,461.5 334.9,456.4 330.4,441.6 324.5,434.4 321.1,430.1 316.7,418.7 313.2,415.0 308.7,408.8 300.4,408.1 296.8,408.6 293.0,410.4 290.3,415.9 287.1,418.9 283.0,416.1 277.2,412.9 271.7,406.8 269.9,399.0 266.8,393.8 260.2,386.9 255.9,382.3 249.4,376.3 230.8,374.3 230.1,380.6 196.6,376.3 156.0,353.4 157.6,350.4 129.7,347.9 129.3,342.6 128.4,338.1 123.9,331.5 119.8,328.5 118.3,324.6 110.9,320.8 106.1,316.2 97.6,312.8 97.5,305.6 96.2,298.8 91.2,291.1 88.1,284.6 88.6,280.4 91.1,277.4 87.3,274.4 85.8,266.8 86.8,262.7 82.2,258.7 80.4,252.5 78.0,244.6 80.2,232.3 76.3,224.0 81.4,215.3 83.9,201.7 83.3,190.1 91.0,179.4 97.0,162.6 101.2,146.8 102.2,137.3 102.4,129.0 100.8,120.2"/>
</g>
</svg>
<div class="t" id="t1"><span>Annual mean wage of crushing, grinding, and polishing</span></div>
<div class="t" id="t2"><span>machine setters, operators, and tenders by area, May 2023</span></div>
<div class="lg" style="left:459px;top:520px;font-weight:bold;transform:scaleX(1.065);transform-origin:0 0">Annual mean wage</div>
<div class="sw" style="left:387px;top:548px;width:9px;background:#afeeee"></div>
<div class="lg" style="left:402px;top:545px">$22,760 - $40,810</div>
<div class="sw" style="left:533px;top:548px;background:#00bfff"></div>
<div class="lg" style="left:547px;top:545px">$40,910 - $45,120</div>
<div class="sw" style="left:387px;top:563px;width:9px;background:#1e90ff"></div>
<div class="lg" style="left:402px;top:560px">$45,260 - $50,850</div>
<div class="sw" style="left:533px;top:563px;background:#0000ff"></div>
<div class="lg" style="left:547px;top:560px">$50,920 - $92,950</div>
<div class="lg" style="left:293px;top:582px">Blank areas indicate data not available.</div>
</body></html>
